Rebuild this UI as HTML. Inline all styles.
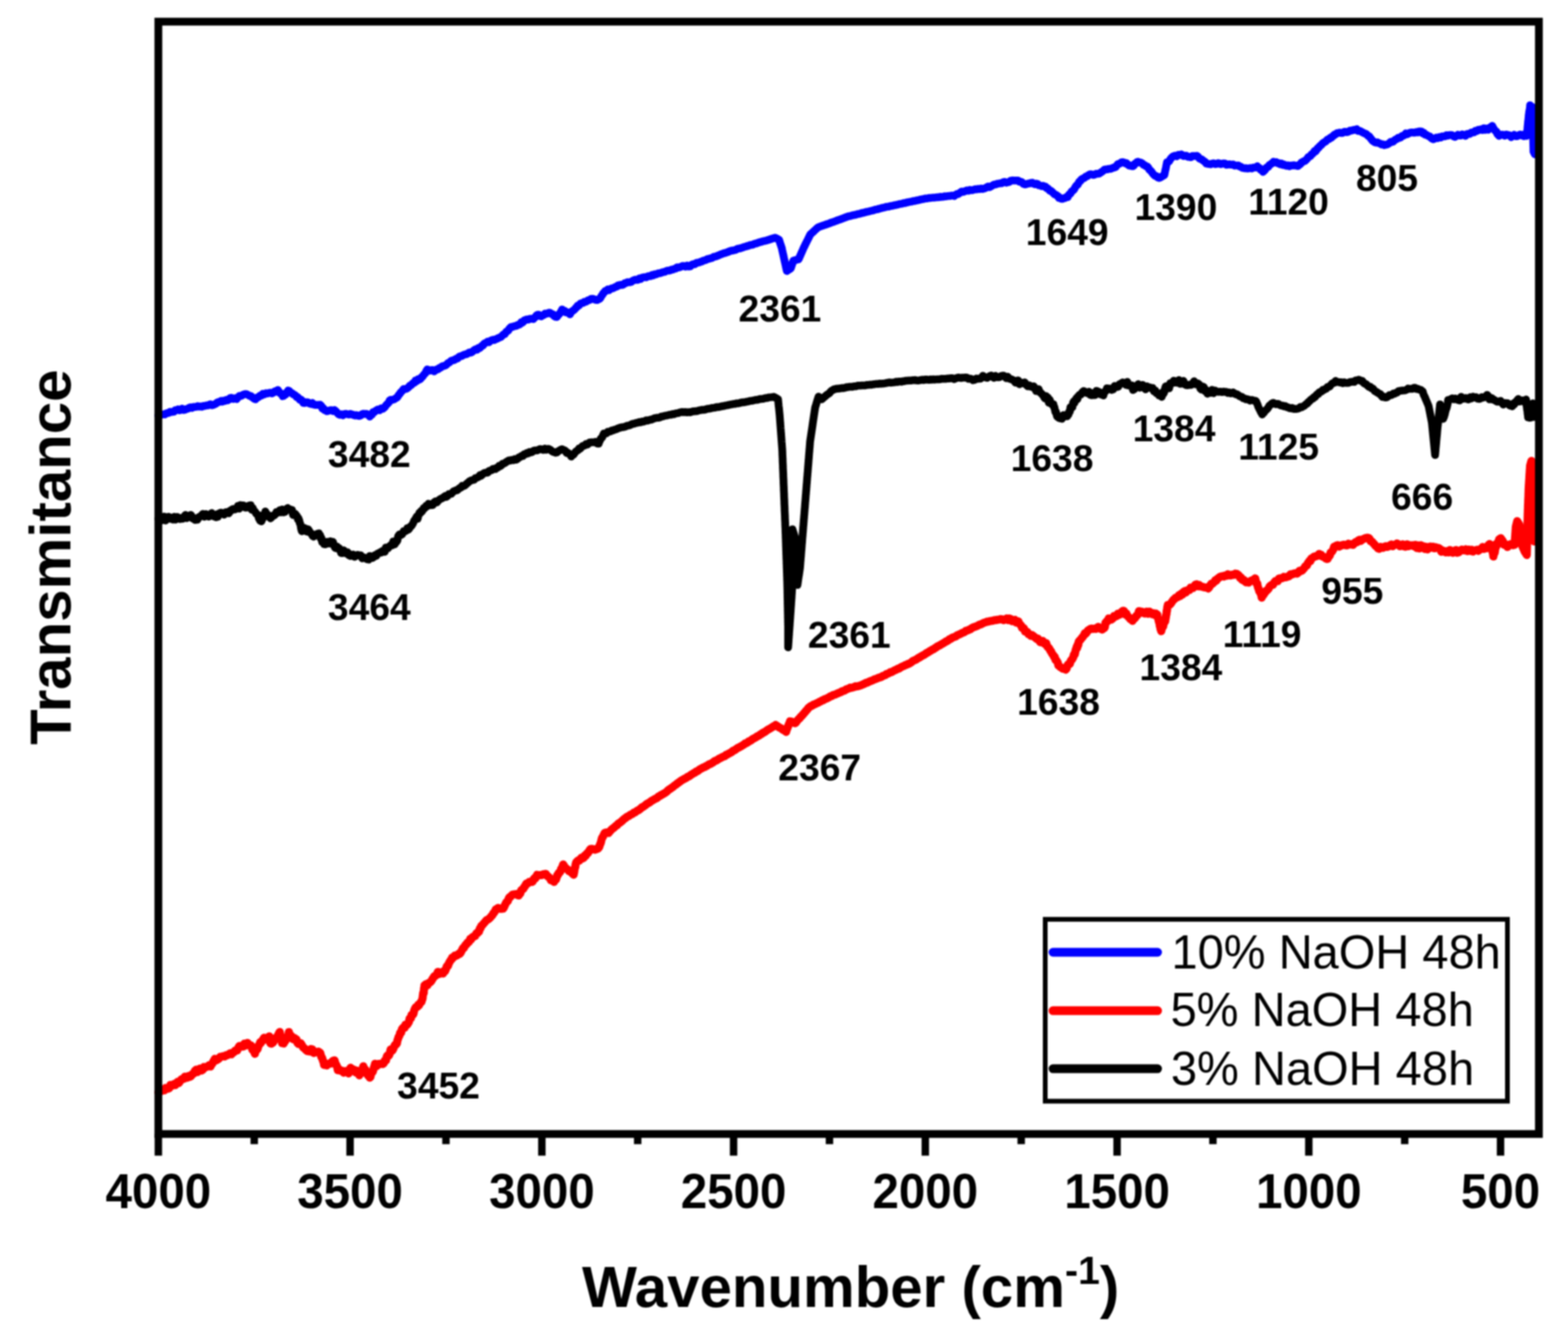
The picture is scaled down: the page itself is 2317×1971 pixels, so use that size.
<!DOCTYPE html>
<html><head><meta charset="utf-8"><title>FTIR spectra</title>
<style>html,body{margin:0;padding:0;background:#fff;}body{width:2317px;height:1971px;overflow:hidden;}svg{display:block;filter:blur(0.8px);}</style>
</head><body>
<svg width="2317" height="1971" viewBox="0 0 2317 1971">
<rect x="0" y="0" width="2317" height="1971" fill="#fff"/>
<g fill="none" stroke-linejoin="round" stroke-linecap="round">
<polyline stroke="#0000ff" stroke-width="11.5" points="234.0,614.0 235.9,613.6 237.8,613.1 239.8,612.4 241.7,612.1 243.6,612.4 245.5,610.8 247.5,610.3 249.4,610.0 251.3,608.4 253.3,608.7 255.2,608.4 257.1,608.3 259.0,606.0 261.0,606.0 262.9,604.9 265.0,606.3 267.1,605.7 269.2,603.8 271.3,605.8 273.4,605.4 275.4,604.3 277.5,603.9 279.6,602.5 281.7,601.8 283.8,602.7 285.9,601.3 288.0,601.3 290.1,601.0 292.2,600.1 294.2,600.8 296.3,600.4 298.4,601.0 300.5,599.8 302.5,599.8 304.6,599.0 306.7,599.1 308.8,598.2 310.8,597.4 312.9,598.8 315.0,598.4 316.9,597.4 318.9,596.5 320.8,594.9 322.7,594.1 324.6,593.6 326.6,592.4 328.5,593.5 330.4,592.0 332.4,592.4 334.3,590.7 336.2,591.5 338.1,590.6 340.1,587.9 342.0,587.8 344.6,589.5 347.1,588.4 349.7,589.7 351.6,587.1 353.5,585.1 355.5,585.2 357.4,584.4 359.8,582.9 362.2,582.2 364.6,582.5 367.0,583.8 368.8,584.9 370.5,584.9 372.3,586.7 374.0,587.9 375.8,589.3 377.6,590.0 379.4,587.4 381.2,587.2 382.9,585.9 384.7,584.2 386.5,584.4 388.3,581.8 390.6,582.7 392.9,581.0 395.3,581.4 397.6,580.5 399.9,580.2 402.0,581.2 404.1,580.0 406.3,578.0 408.4,578.6 410.5,576.2 411.9,578.1 413.4,580.7 414.8,581.6 416.2,581.7 417.7,585.3 419.1,584.9 420.5,583.5 421.8,583.2 423.2,580.6 424.5,579.0 425.9,576.9 427.7,578.0 429.5,580.3 431.3,580.6 433.0,582.5 434.8,583.1 436.6,584.4 438.4,586.7 440.0,587.0 441.6,588.7 443.2,590.8 444.9,590.6 446.5,592.0 448.1,595.3 450.4,595.4 452.6,594.3 454.9,594.5 457.1,596.1 459.4,596.9 461.6,595.5 463.9,597.9 466.2,598.3 468.5,598.2 470.8,598.3 473.1,598.1 474.7,599.5 476.2,603.3 477.8,603.1 479.3,605.8 480.9,606.2 483.1,607.6 485.4,607.0 487.6,606.3 489.9,606.0 492.1,607.3 494.4,605.8 496.3,607.6 498.2,609.8 500.2,612.0 502.1,612.9 504.3,612.1 506.5,613.6 508.7,611.9 510.9,611.4 513.1,612.0 515.3,612.5 517.5,611.5 519.8,612.2 522.1,613.0 524.5,613.9 526.8,613.2 529.1,614.2 531.0,614.5 533.0,613.8 534.9,612.0 536.8,611.2 538.7,611.7 540.6,611.4 542.6,611.9 544.5,612.6 546.4,615.5 548.0,613.5 549.6,612.7 551.2,609.1 552.9,609.1 554.5,607.3 556.1,606.5 558.5,605.0 560.9,606.1 563.3,603.4 565.7,604.0 567.2,602.8 568.6,601.5 570.0,599.4 571.5,597.6 573.0,596.2 574.4,594.8 575.8,591.7 577.3,590.8 579.9,590.7 582.4,590.0 585.0,588.3 586.4,587.5 587.7,586.1 589.1,583.7 590.5,582.2 591.9,579.9 593.2,578.8 594.6,577.2 596.5,574.7 598.5,574.9 600.4,574.6 602.4,573.2 604.3,571.6 605.9,569.5 607.5,569.1 609.1,567.4 610.7,565.8 612.3,565.5 613.9,562.4 615.8,563.1 617.8,560.4 619.7,560.8 621.6,559.6 623.0,557.2 624.4,556.5 625.8,554.2 627.1,552.7 628.5,551.6 629.9,548.2 631.3,545.8 633.4,546.7 635.4,547.7 637.5,546.8 639.5,546.8 641.6,548.6 643.5,547.2 645.4,545.8 647.4,545.7 649.3,543.6 651.2,543.3 653.1,541.4 654.9,540.8 656.6,540.5 658.4,539.7 660.1,538.5 661.9,536.5 663.6,535.8 665.4,534.3 667.1,532.8 668.9,532.5 670.6,532.1 672.4,531.1 674.3,530.0 676.3,529.6 678.2,527.4 680.1,526.4 682.1,526.1 684.0,524.9 686.0,524.0 687.9,523.5 689.8,523.1 691.7,521.9 693.7,520.7 695.6,520.9 697.5,520.3 699.4,518.4 701.3,516.8 703.3,515.8 705.2,516.6 707.1,514.1 708.8,514.2 710.4,512.7 712.1,510.9 713.7,510.6 715.4,507.8 717.0,506.8 718.7,506.2 720.6,504.7 722.6,505.6 724.5,503.7 726.4,502.8 728.3,502.0 730.3,502.4 732.2,501.4 734.1,500.7 736.1,499.6 738.0,498.8 739.9,498.0 741.8,496.4 743.8,494.3 745.7,493.8 747.1,491.6 748.5,489.8 749.9,489.2 751.2,488.2 752.6,485.6 754.0,484.3 755.4,482.9 757.3,483.0 759.2,482.1 761.2,481.7 763.1,481.4 765.0,480.1 766.7,479.8 768.4,478.9 770.1,476.2 771.8,476.8 773.4,475.3 775.1,473.0 776.8,472.6 778.5,471.9 780.9,472.2 783.3,470.9 785.7,471.0 788.1,471.4 789.5,469.8 791.0,468.6 792.5,466.3 793.9,465.2 795.8,464.9 797.8,466.6 799.7,467.4 801.6,466.1 803.6,465.3 805.5,463.3 807.4,463.7 809.4,462.9 811.3,462.0 813.2,462.4 815.2,464.1 817.1,464.5 819.0,467.0 821.0,468.1 822.9,468.4 824.2,466.1 825.5,465.0 826.8,463.5 828.0,462.2 829.3,459.8 830.6,457.2 832.5,459.7 834.5,459.2 836.4,461.6 838.3,461.3 840.3,462.6 842.2,464.5 843.6,461.6 845.1,460.1 846.5,459.2 848.0,458.1 849.4,456.8 850.8,454.9 852.3,453.9 853.7,451.4 855.6,451.3 857.6,448.6 859.5,447.9 861.4,447.6 863.4,446.1 865.3,446.0 867.2,444.9 869.1,443.7 871.1,443.4 873.0,441.8 875.3,441.5 877.6,441.9 880.0,443.0 882.3,443.3 884.6,442.1 886.0,441.6 887.3,440.0 888.7,437.3 890.1,435.6 891.5,433.1 892.8,432.0 894.2,430.1 896.1,429.5 898.1,427.6 900.0,428.7 901.9,427.0 903.8,426.0 905.8,426.0 907.7,424.8 909.6,423.8 911.5,423.4 913.5,421.4 915.4,421.6 917.3,420.7 919.3,421.1 921.2,420.4 923.1,418.5 925.1,418.2 927.0,416.9 928.9,416.9 930.9,417.0 932.8,416.5 934.7,415.0 936.7,414.1 938.6,413.2 940.7,413.5 942.7,413.5 944.8,411.4 946.9,412.1 948.9,410.1 951.0,409.8 953.0,409.4 955.1,409.7 957.2,408.4 959.2,407.9 961.3,407.9 963.4,406.3 965.4,407.0 967.5,405.2 969.4,405.5 971.4,404.4 973.3,403.7 975.2,403.8 977.1,403.0 979.1,402.3 981.0,401.8 982.9,401.5 984.9,400.2 986.8,399.7 988.7,399.9 990.7,399.2 992.6,398.3 994.5,398.3 996.5,397.1 998.4,396.9 1000.3,395.0 1002.2,395.3 1004.2,394.8 1006.1,394.3 1008.4,393.0 1010.7,392.9 1013.0,393.9 1015.4,392.4 1017.7,393.8 1020.0,393.5 1022.3,391.0 1024.6,390.3 1026.9,390.4 1029.2,388.5 1031.1,388.1 1033.1,387.8 1035.0,386.9 1037.0,386.4 1038.9,385.3 1040.9,384.7 1042.8,384.2 1044.8,383.1 1046.7,382.5 1048.7,382.1 1050.6,381.5 1052.6,380.9 1054.5,379.7 1056.5,379.2 1058.4,378.7 1060.4,377.8 1062.3,377.2 1064.3,376.2 1066.2,375.4 1068.2,374.8 1070.1,374.0 1072.1,373.6 1074.0,372.9 1076.0,372.2 1077.9,371.3 1079.8,370.7 1081.8,370.2 1083.7,370.0 1085.6,369.5 1087.5,368.9 1089.5,367.8 1091.4,367.2 1093.3,367.1 1095.2,366.3 1097.2,365.9 1099.1,365.0 1101.0,364.5 1102.9,364.0 1104.9,363.3 1106.8,362.9 1108.7,361.9 1110.6,361.8 1112.6,361.3 1114.5,360.3 1116.4,359.9 1118.3,359.5 1120.3,358.7 1122.2,358.0 1124.1,357.4 1126.1,357.0 1128.0,356.2 1129.9,356.1 1131.9,355.5 1133.8,354.9 1135.7,354.4 1137.7,353.7 1139.6,353.0 1141.5,352.4 1143.5,351.9 1145.4,351.3 1147.3,352.2 1149.2,353.2 1151.1,354.1 1151.8,356.0 1152.4,358.0 1153.0,359.9 1153.7,361.8 1154.3,363.8 1155.0,365.7 1155.5,367.7 1155.9,369.8 1156.4,371.8 1156.8,373.9 1157.3,375.9 1157.7,377.9 1158.2,380.0 1158.6,382.0 1159.1,384.1 1159.5,386.1 1160.0,388.2 1160.4,390.2 1160.9,392.2 1161.3,394.3 1161.8,396.3 1162.2,398.4 1162.7,400.4 1164.6,399.1 1166.6,397.9 1168.5,396.6 1169.2,394.7 1169.8,392.7 1170.5,390.8 1171.1,388.9 1171.8,386.9 1172.4,385.0 1175.0,384.4 1177.5,383.7 1180.1,383.1 1181.0,381.2 1181.8,379.2 1182.7,377.3 1183.5,375.4 1184.4,373.4 1185.2,371.5 1186.1,369.6 1186.9,367.6 1187.8,365.7 1188.8,363.8 1189.7,361.8 1190.7,359.9 1191.6,358.0 1192.6,356.0 1193.6,354.1 1194.5,352.2 1195.5,350.3 1196.4,348.3 1197.4,346.4 1199.1,344.9 1200.7,343.4 1202.4,341.9 1204.0,340.3 1205.7,338.8 1207.3,337.3 1209.0,335.8 1210.9,335.1 1212.9,334.4 1214.8,333.7 1216.7,333.1 1218.6,332.4 1220.6,331.7 1222.5,331.0 1224.4,330.5 1226.4,329.7 1228.3,328.8 1230.2,328.3 1232.1,327.6 1234.1,326.9 1236.0,326.2 1237.9,325.3 1239.8,324.8 1241.8,324.1 1243.7,323.3 1245.6,322.6 1247.5,321.9 1249.5,321.1 1251.4,320.5 1253.4,319.7 1255.4,319.3 1257.4,318.9 1259.4,318.2 1261.4,317.8 1263.4,317.5 1265.4,316.9 1267.4,316.3 1269.4,316.1 1271.4,315.5 1273.4,314.8 1275.4,314.5 1277.4,313.9 1279.4,313.4 1281.3,312.9 1283.3,312.6 1285.3,312.0 1287.3,311.5 1289.3,311.0 1291.3,310.6 1293.3,309.7 1295.3,309.4 1297.3,309.0 1299.3,308.3 1301.3,307.9 1303.3,307.2 1305.3,306.8 1307.3,306.4 1309.3,305.7 1311.3,305.4 1313.3,305.2 1315.3,304.6 1317.3,304.2 1319.3,303.9 1321.3,303.3 1323.3,303.1 1325.3,302.5 1327.3,302.1 1329.3,301.4 1331.3,301.2 1333.3,300.8 1335.3,300.1 1337.3,300.0 1339.2,299.3 1341.2,299.0 1343.2,298.4 1345.2,298.1 1347.2,297.8 1349.2,297.1 1351.2,297.0 1353.2,296.4 1355.2,296.0 1357.2,295.6 1359.2,295.1 1361.2,294.6 1363.2,294.3 1365.2,293.9 1367.2,293.3 1369.2,293.3 1371.3,292.9 1373.3,292.5 1375.4,292.4 1377.4,292.1 1379.4,291.9 1381.5,291.9 1383.5,291.6 1385.5,291.5 1387.6,291.3 1389.6,290.8 1391.7,290.9 1393.7,290.7 1395.7,290.1 1397.8,290.2 1399.8,289.8 1401.8,289.6 1403.9,289.6 1405.9,289.0 1408.0,288.9 1410.0,289.6 1411.8,288.2 1413.7,286.8 1415.5,286.8 1417.4,285.6 1419.2,284.2 1421.2,282.9 1423.2,283.5 1425.2,282.8 1427.2,281.9 1429.1,281.2 1431.1,281.8 1433.1,280.6 1435.1,280.9 1437.2,281.0 1439.3,280.2 1441.4,279.5 1443.5,279.7 1445.6,279.1 1447.7,279.4 1449.8,278.6 1451.9,279.2 1454.0,278.7 1456.1,277.9 1458.2,276.6 1460.1,275.6 1462.0,276.5 1464.0,275.5 1465.9,274.5 1467.8,273.3 1469.8,272.4 1471.7,272.5 1473.6,271.5 1475.8,271.2 1478.0,270.8 1480.2,270.7 1482.5,269.1 1484.7,268.8 1486.9,269.9 1489.1,269.3 1491.3,268.9 1493.6,266.9 1495.8,266.6 1498.1,266.7 1500.3,266.7 1502.6,266.7 1504.5,266.7 1506.4,268.5 1508.3,268.5 1510.3,269.5 1512.2,271.7 1514.1,272.4 1516.4,272.2 1518.7,271.3 1521.1,271.1 1523.4,270.2 1525.7,270.1 1527.6,271.5 1529.6,272.2 1531.5,271.3 1533.4,272.0 1535.3,273.9 1537.3,274.1 1539.2,275.0 1541.1,274.5 1543.1,275.5 1545.0,275.7 1546.7,278.1 1548.3,278.4 1550.0,280.2 1551.6,282.1 1553.3,282.1 1554.9,283.8 1556.6,285.4 1558.2,287.1 1559.9,287.5 1561.5,288.8 1563.2,289.6 1564.8,292.5 1566.5,292.3 1568.1,293.7 1570.0,293.8 1572.0,292.9 1573.9,292.5 1575.9,291.0 1577.8,291.2 1579.2,288.1 1580.5,286.7 1581.9,286.0 1583.3,283.2 1584.7,282.0 1586.0,281.2 1587.4,279.5 1588.7,276.9 1590.0,274.9 1591.3,273.6 1592.6,272.7 1593.8,270.2 1595.1,268.0 1596.4,267.5 1597.7,265.5 1599.0,264.4 1600.9,263.5 1602.9,262.5 1604.8,260.6 1606.7,260.4 1608.7,258.5 1610.6,257.5 1612.8,257.5 1615.1,258.4 1617.3,258.2 1619.6,256.7 1621.8,256.8 1624.1,256.6 1626.0,255.3 1627.9,254.0 1629.9,252.6 1631.8,250.8 1633.7,250.2 1636.0,250.3 1638.3,249.4 1640.7,249.6 1643.0,248.7 1645.3,247.6 1647.0,247.5 1648.7,246.6 1650.4,244.2 1652.0,242.4 1653.7,242.2 1655.4,241.1 1657.1,239.9 1658.8,239.5 1660.7,240.0 1662.7,241.4 1664.6,241.0 1666.5,243.1 1668.4,244.7 1670.4,244.4 1672.3,245.5 1673.9,245.5 1675.5,244.5 1677.1,241.6 1678.7,241.4 1680.3,239.2 1681.9,239.1 1683.8,240.0 1685.8,240.3 1687.7,241.3 1689.6,243.5 1691.5,244.1 1693.5,245.7 1695.4,246.1 1696.8,247.6 1698.2,250.6 1699.6,251.6 1700.9,252.9 1702.3,254.7 1703.7,256.7 1705.1,258.3 1707.0,259.9 1708.9,260.1 1710.9,262.2 1712.8,263.0 1714.7,262.2 1716.7,260.9 1718.6,259.8 1720.5,258.7 1721.0,256.6 1721.5,253.8 1722.0,251.4 1722.5,249.6 1722.9,247.6 1723.4,244.7 1723.9,242.5 1724.4,239.8 1726.0,239.4 1727.6,238.3 1729.2,235.5 1730.8,233.4 1732.4,231.9 1734.0,230.7 1736.3,230.1 1738.6,231.0 1741.0,228.8 1743.3,228.9 1745.6,228.1 1747.5,229.8 1749.4,230.6 1751.4,230.0 1753.3,230.3 1755.2,231.7 1757.5,231.8 1759.7,232.3 1762.0,230.4 1764.2,230.4 1766.5,230.4 1768.7,230.3 1770.4,231.6 1772.1,233.9 1773.9,234.9 1775.6,235.5 1777.3,236.7 1779.0,238.1 1780.8,239.2 1782.5,241.6 1784.2,242.0 1786.5,242.3 1788.7,242.7 1791.0,241.9 1793.2,241.3 1795.5,242.4 1797.7,242.3 1800.0,241.0 1802.0,241.6 1804.0,242.6 1806.0,241.9 1808.0,241.5 1810.0,241.4 1812.0,243.4 1814.1,243.3 1816.1,242.7 1818.1,243.2 1820.1,243.3 1822.1,243.0 1824.1,244.7 1826.0,244.6 1828.0,244.4 1829.9,244.5 1831.8,246.0 1833.8,246.4 1835.7,247.9 1837.6,248.3 1839.5,248.7 1841.5,248.4 1843.4,249.0 1845.5,248.8 1847.5,248.2 1849.6,248.9 1851.7,247.7 1853.8,247.4 1855.8,247.6 1857.9,245.6 1859.6,247.6 1861.3,248.3 1862.9,251.0 1864.6,250.9 1866.3,253.9 1867.9,252.5 1869.4,251.0 1871.0,248.1 1872.6,247.0 1874.2,246.5 1875.7,243.8 1877.3,243.1 1878.9,241.6 1880.4,241.2 1882.0,239.0 1883.9,240.1 1885.9,239.6 1887.8,241.2 1889.7,241.1 1891.7,242.7 1893.6,241.6 1895.5,243.7 1897.4,243.1 1899.4,244.4 1901.3,245.0 1903.4,244.2 1905.5,245.6 1907.6,244.5 1909.7,244.5 1911.8,244.1 1913.9,244.5 1916.0,244.8 1918.1,245.3 1919.8,243.3 1921.5,242.6 1923.2,240.1 1924.9,239.4 1926.5,238.2 1928.2,237.9 1929.9,236.2 1931.6,234.6 1933.3,232.0 1935.0,231.4 1936.5,230.5 1938.0,228.1 1939.5,227.3 1940.9,225.6 1942.4,223.2 1943.9,223.7 1945.4,221.8 1946.9,219.1 1948.4,218.5 1949.8,216.3 1951.3,215.0 1952.8,213.9 1954.3,211.9 1955.9,210.8 1957.5,209.7 1959.1,209.0 1960.7,207.0 1962.3,205.7 1963.9,205.6 1965.6,203.6 1967.2,203.6 1968.8,201.6 1970.4,200.7 1972.0,198.8 1973.6,198.6 1975.7,196.7 1977.9,196.4 1980.0,195.9 1982.2,196.6 1984.3,196.3 1986.5,194.8 1988.6,194.8 1990.8,195.3 1992.9,194.4 1994.9,193.0 1996.9,192.9 1998.9,192.3 2000.9,191.8 2002.9,192.0 2004.9,190.9 2006.9,193.5 2008.9,193.3 2011.0,194.3 2013.0,195.4 2015.0,196.4 2017.0,197.3 2018.6,197.9 2020.2,199.3 2021.8,200.9 2023.4,201.6 2025.0,203.8 2026.6,205.9 2028.2,207.9 2029.8,209.0 2031.4,210.2 2033.5,210.8 2035.5,210.3 2037.6,211.6 2039.7,212.3 2041.8,213.6 2043.8,213.2 2045.9,214.5 2047.7,213.8 2049.5,213.5 2051.3,212.7 2053.2,211.3 2055.0,209.5 2056.8,209.8 2058.6,209.2 2060.4,207.6 2062.3,206.1 2064.1,205.4 2066.0,203.6 2067.9,203.7 2069.7,203.1 2071.6,201.1 2073.5,200.5 2075.3,199.6 2077.2,197.3 2079.2,198.5 2081.1,197.5 2083.1,196.3 2085.1,195.7 2087.1,195.7 2089.0,196.0 2091.0,195.9 2093.0,194.9 2095.0,195.7 2096.9,194.3 2098.9,194.1 2100.7,194.4 2102.4,197.1 2104.2,196.4 2105.9,199.0 2107.7,199.2 2109.4,200.3 2111.2,201.3 2112.9,201.7 2114.7,203.9 2116.4,205.1 2118.2,205.7 2120.3,204.8 2122.5,203.3 2124.6,204.1 2126.8,202.5 2128.9,203.2 2131.1,201.4 2133.2,201.5 2135.4,201.5 2137.5,199.7 2139.6,200.4 2141.7,199.5 2143.8,199.5 2145.8,199.8 2147.9,201.4 2150.0,202.3 2152.2,200.8 2154.3,199.1 2156.5,200.3 2158.6,200.3 2160.8,198.5 2163.2,199.6 2165.6,200.7 2168.0,197.9 2170.0,197.7 2172.0,197.9 2174.1,195.7 2176.1,195.8 2178.1,195.6 2180.1,193.2 2182.2,193.7 2184.2,191.7 2186.2,192.1 2188.4,191.0 2190.5,192.1 2192.7,189.5 2194.8,191.9 2197.0,189.7 2199.0,191.8 2201.0,189.2 2203.0,187.5 2205.0,186.0 2206.3,188.5 2207.5,190.4 2208.8,192.3 2210.1,193.9 2211.3,194.5 2212.6,198.1 2213.8,199.1 2215.1,200.8 2217.3,198.9 2219.4,198.9 2221.6,199.2 2223.7,200.5 2225.9,198.8 2228.2,199.5 2230.6,199.9 2233.0,202.5 2235.3,200.9 2237.5,199.2 2239.7,201.2 2241.8,201.2 2244.0,199.9 2246.2,198.7 2248.2,200.1 2250.1,199.1 2252.1,201.1 2254.0,199.8 2256.0,200.8 2256.2,200.1 2256.4,198.3 2256.6,195.8 2256.8,192.4 2256.9,193.0 2257.1,190.3 2257.3,187.1 2257.5,185.4 2257.7,183.7 2257.9,181.1 2258.1,178.4 2258.2,179.7 2258.4,177.9 2258.6,174.7 2258.8,173.5 2259.0,169.7 2259.3,169.1 2259.7,164.6 2260.0,164.5 2260.3,161.6 2260.7,160.8 2261.0,155.4 2261.1,160.2 2261.2,159.5 2261.3,163.2 2261.4,166.8 2261.5,165.0 2261.6,168.0 2261.7,170.2 2261.8,172.3 2261.9,173.3 2262.1,177.0 2262.2,179.0 2262.3,181.0 2262.4,183.0 2262.5,185.0 2262.6,187.0 2262.7,189.0 2262.8,191.0 2262.9,193.0 2263.0,195.0 2263.1,192.9 2263.2,190.9 2263.2,188.8 2263.3,186.8 2263.4,184.7 2263.5,182.7 2263.6,180.6 2263.7,178.6 2263.8,176.5 2263.8,174.4 2263.9,172.4 2264.0,170.3 2264.1,168.3 2264.2,166.2 2264.2,164.2 2264.3,162.1 2264.4,160.1 2264.5,158.0 2264.5,160.0 2264.6,162.0 2264.6,164.0 2264.7,166.0 2264.7,168.0 2264.8,170.0 2264.8,172.0 2264.9,174.0 2264.9,176.0 2265.0,178.0 2265.0,180.0 2265.0,182.0 2265.1,184.0 2265.1,186.0 2265.2,188.0 2265.2,190.0 2265.3,192.0 2265.3,194.0 2265.4,196.0 2265.4,198.0 2265.5,200.0 2265.5,202.0 2265.5,204.0 2265.6,206.0 2265.6,208.0 2265.7,210.0 2265.7,212.0 2265.8,214.0 2265.8,216.0 2265.9,218.0 2265.9,220.0 2266.0,222.0 2266.0,224.0 2267.0,226.0 2268.0,228.0 2268.4,225.9 2268.7,223.8 2269.1,221.7 2269.5,219.6 2269.8,217.5 2270.2,215.5 2270.5,213.4 2270.9,211.3 2271.3,209.2 2271.6,207.1 2272.0,205.0"/>
<polyline stroke="#ff0000" stroke-width="12" points="234.0,1614.0 235.9,1613.3 237.7,1612.3 239.4,1611.7 241.2,1611.1 243.0,1611.1 244.7,1607.4 246.5,1608.3 248.3,1608.6 250.0,1607.8 251.8,1603.0 253.6,1604.5 255.3,1603.4 257.1,1601.8 258.9,1603.3 260.7,1600.0 262.5,1598.6 264.2,1600.2 266.0,1597.7 267.8,1595.0 269.6,1594.0 271.4,1594.0 273.2,1590.8 274.9,1592.7 276.7,1592.4 278.5,1589.8 280.3,1591.0 282.2,1590.1 284.2,1586.9 286.1,1586.3 288.0,1582.1 290.0,1580.5 291.9,1584.0 293.8,1579.8 295.7,1578.8 297.7,1581.8 299.6,1580.5 301.5,1576.6 303.4,1577.1 305.3,1576.1 307.3,1575.7 309.2,1573.7 311.1,1575.8 312.4,1572.9 313.7,1571.6 315.0,1568.8 316.3,1566.6 317.6,1564.4 318.9,1567.0 321.1,1565.8 323.3,1564.3 325.5,1561.5 327.7,1561.1 329.9,1560.4 332.1,1560.9 334.3,1559.0 336.2,1559.0 338.2,1557.5 340.1,1556.3 342.0,1557.6 344.0,1555.4 345.9,1554.4 347.4,1552.4 349.0,1552.0 350.5,1552.0 352.1,1548.1 353.6,1545.6 355.5,1546.7 357.4,1545.2 359.4,1546.3 361.3,1541.9 363.2,1544.8 365.8,1541.0 368.3,1544.5 370.9,1544.6 371.9,1545.9 372.8,1550.8 373.8,1551.7 374.8,1550.8 375.7,1554.5 376.7,1557.0 377.7,1552.0 378.6,1550.4 379.6,1551.1 380.6,1549.9 381.5,1546.6 382.5,1544.4 383.5,1542.9 384.5,1539.7 385.4,1541.0 386.4,1539.5 388.3,1536.4 390.2,1533.3 392.1,1534.7 394.1,1536.1 396.0,1533.0 397.9,1531.2 398.4,1534.1 398.9,1539.2 399.4,1541.1 399.9,1541.8 401.1,1541.9 402.4,1540.9 403.6,1540.3 404.8,1538.0 406.0,1534.2 407.3,1534.5 408.5,1533.5 409.7,1531.5 410.9,1529.2 412.2,1526.7 413.4,1524.7 413.8,1528.5 414.2,1529.3 414.7,1531.9 415.1,1531.3 415.5,1532.6 415.9,1535.6 416.4,1539.3 416.8,1541.2 417.2,1541.3 418.3,1539.6 419.4,1541.8 420.4,1535.5 421.5,1538.3 422.6,1535.8 423.7,1533.0 424.7,1533.5 425.8,1530.1 426.9,1524.9 428.5,1531.4 430.1,1530.2 431.7,1534.5 433.3,1535.5 434.9,1533.6 436.5,1534.7 438.1,1535.9 439.7,1541.2 441.3,1542.5 442.9,1540.9 444.5,1541.6 446.1,1544.2 448.1,1547.9 450.0,1549.0 451.9,1551.1 453.9,1553.0 455.8,1552.6 457.7,1553.6 459.6,1550.0 461.6,1550.6 463.5,1555.7 465.4,1555.1 468.0,1554.2 470.5,1553.8 473.1,1555.5 473.7,1557.5 474.4,1560.2 475.0,1561.9 475.7,1562.6 476.3,1563.9 477.0,1566.5 477.6,1568.0 478.3,1569.8 478.9,1573.4 480.8,1571.3 482.8,1574.2 484.7,1572.2 486.6,1571.2 488.6,1571.5 490.5,1568.8 492.5,1567.1 494.4,1566.8 495.3,1570.2 496.3,1572.4 497.2,1574.0 498.2,1576.3 499.2,1581.2 500.1,1578.9 502.0,1581.8 504.0,1582.0 505.9,1582.0 507.9,1584.9 509.8,1582.9 511.8,1582.5 513.7,1583.6 515.1,1585.9 516.5,1580.7 518.0,1577.6 519.4,1580.0 521.1,1579.7 522.7,1582.7 524.4,1580.9 526.0,1584.8 527.7,1582.1 529.3,1584.5 531.0,1588.8 532.2,1585.4 533.3,1584.9 534.5,1580.9 535.6,1581.5 536.8,1575.4 538.0,1579.9 539.2,1579.4 540.4,1581.1 541.6,1586.3 542.8,1585.7 544.0,1589.4 545.2,1588.3 546.4,1592.3 547.3,1591.3 548.1,1587.9 549.0,1584.0 549.9,1584.3 550.7,1583.8 551.6,1581.1 552.5,1577.4 553.3,1575.2 554.2,1571.7 556.5,1575.2 558.8,1572.0 561.1,1572.3 563.4,1571.4 565.7,1572.1 566.7,1571.4 567.6,1570.1 568.6,1566.8 569.6,1566.3 570.5,1566.3 571.5,1561.1 572.5,1559.5 573.4,1559.8 574.4,1560.0 575.4,1558.3 576.3,1554.7 577.3,1550.5 578.6,1552.9 579.9,1551.9 581.1,1549.8 582.4,1546.3 583.7,1543.9 585.0,1543.4 585.8,1542.5 586.5,1541.6 587.3,1537.1 588.1,1535.2 588.9,1532.3 589.6,1531.5 590.4,1529.6 591.2,1526.3 591.9,1525.3 592.7,1525.8 594.0,1520.5 595.3,1518.9 596.6,1517.5 597.9,1518.6 599.1,1514.0 600.4,1515.0 601.7,1513.9 603.0,1511.9 604.3,1509.8 605.3,1504.8 606.2,1504.3 607.2,1504.5 608.1,1499.7 609.1,1499.7 610.1,1499.3 611.0,1497.9 612.0,1493.0 613.2,1490.2 614.4,1488.0 615.6,1487.9 616.8,1487.4 618.0,1484.4 619.1,1485.5 620.3,1483.0 621.5,1481.2 622.7,1480.6 623.9,1476.3 624.3,1475.9 624.7,1472.2 625.0,1469.7 625.4,1466.7 625.8,1468.1 626.2,1466.6 626.6,1459.9 626.9,1461.4 627.3,1455.8 627.7,1455.6 629.6,1453.9 631.6,1455.8 633.5,1452.2 635.5,1451.4 637.4,1449.5 638.6,1447.2 639.8,1445.5 641.0,1443.7 642.2,1441.9 643.4,1441.9 644.6,1440.8 645.8,1438.9 647.0,1435.9 649.6,1438.9 652.1,1436.6 654.7,1438.4 655.7,1436.3 656.8,1434.0 657.8,1434.7 658.9,1432.2 659.9,1428.5 660.9,1426.9 662.0,1427.2 663.0,1424.0 664.0,1422.0 665.1,1420.2 666.1,1418.5 667.2,1417.6 668.2,1414.9 670.1,1414.6 672.1,1411.8 674.0,1412.1 676.0,1411.1 677.9,1409.1 679.2,1409.3 680.5,1407.9 681.8,1405.4 683.0,1403.0 684.3,1400.6 685.6,1400.5 686.9,1397.8 688.2,1395.8 689.4,1395.3 690.7,1392.7 692.0,1392.5 693.3,1391.2 694.8,1387.3 696.3,1387.8 697.8,1384.9 699.3,1383.9 700.8,1383.6 702.3,1382.9 703.8,1379.3 705.3,1379.2 706.8,1376.4 707.9,1376.4 709.0,1372.0 710.1,1371.6 711.2,1367.9 712.3,1367.4 713.4,1366.1 714.5,1364.7 716.1,1363.0 717.7,1361.0 719.3,1359.2 720.9,1358.7 722.5,1357.5 724.1,1356.1 725.3,1354.7 726.5,1353.1 727.7,1352.0 729.0,1349.3 730.2,1348.5 731.4,1346.3 732.6,1343.5 733.8,1343.2 736.2,1341.5 738.6,1342.8 741.0,1342.7 743.4,1342.6 744.6,1340.8 745.7,1338.2 746.9,1335.8 748.0,1333.3 749.2,1332.5 750.4,1331.5 751.5,1328.0 752.7,1325.7 753.8,1325.6 755.0,1324.2 757.3,1321.8 759.6,1321.4 762.0,1321.1 764.3,1322.3 766.6,1323.1 767.8,1319.6 768.9,1319.7 770.1,1315.6 771.2,1314.5 772.4,1313.9 773.5,1313.0 774.6,1310.5 775.8,1309.5 777.0,1306.8 778.1,1305.2 780.0,1305.2 782.0,1303.0 784.0,1303.1 785.9,1303.1 787.2,1302.3 788.5,1299.1 789.8,1297.5 791.0,1298.1 792.3,1295.2 793.6,1292.7 795.9,1293.5 798.2,1292.9 800.5,1292.9 802.8,1291.7 805.1,1291.5 806.6,1291.2 808.1,1293.6 809.6,1294.9 811.1,1295.9 812.6,1297.6 814.1,1300.7 815.6,1299.9 817.1,1301.0 818.6,1303.1 819.6,1300.8 820.5,1298.5 821.5,1299.6 822.5,1296.6 823.4,1293.2 824.4,1293.0 825.4,1290.1 826.3,1289.3 827.3,1289.0 828.2,1287.3 829.2,1283.6 830.2,1283.1 831.1,1280.4 832.1,1277.3 833.8,1279.7 835.5,1282.4 837.3,1283.7 839.0,1284.9 840.7,1287.1 842.4,1286.6 844.2,1289.0 845.9,1290.7 847.6,1292.5 848.1,1290.2 848.5,1288.2 849.0,1284.4 849.5,1282.5 850.0,1281.2 850.5,1277.6 850.9,1276.1 851.4,1274.3 853.0,1272.5 854.6,1271.2 856.1,1271.5 857.7,1269.2 859.3,1267.1 860.9,1268.3 862.5,1267.5 864.1,1264.0 865.6,1264.2 867.2,1261.1 868.8,1260.3 869.8,1258.2 870.7,1257.8 871.6,1255.6 872.6,1254.5 874.9,1254.2 877.1,1254.8 879.4,1255.4 881.6,1254.6 883.9,1253.7 884.6,1251.6 885.3,1251.9 886.0,1249.8 886.7,1247.4 887.4,1246.4 888.1,1244.0 888.8,1240.8 889.5,1238.2 890.2,1237.0 890.9,1236.7 891.6,1234.6 893.5,1230.8 895.5,1229.9 897.4,1230.3 899.3,1230.8 900.9,1228.5 902.4,1227.1 904.0,1225.2 905.6,1224.0 907.1,1223.1 908.7,1221.5 910.3,1220.1 911.8,1219.3 913.4,1217.2 915.0,1216.2 916.6,1215.2 918.1,1213.8 919.7,1212.6 921.3,1210.8 922.8,1209.7 924.4,1208.7 926.1,1207.0 927.9,1206.1 929.6,1205.5 931.4,1203.8 933.1,1203.2 934.9,1202.2 936.6,1200.7 938.4,1200.3 940.1,1199.0 941.9,1197.5 943.6,1197.1 945.3,1195.8 947.0,1194.3 948.7,1192.7 950.4,1192.1 952.0,1190.8 953.7,1189.7 955.4,1188.0 957.1,1187.1 958.9,1186.2 960.7,1185.1 962.5,1183.5 964.3,1182.5 966.1,1181.5 967.9,1180.4 969.7,1179.7 971.4,1178.6 973.2,1176.7 975.0,1176.1 976.8,1174.6 978.6,1174.1 980.4,1172.7 982.2,1171.9 983.9,1170.7 985.5,1169.5 987.2,1167.6 988.8,1166.3 990.5,1165.6 992.1,1164.2 993.8,1163.2 995.5,1161.7 997.1,1160.4 998.8,1159.4 1000.4,1157.9 1002.1,1156.8 1003.7,1155.5 1005.4,1154.4 1007.2,1152.9 1009.0,1152.1 1010.8,1151.1 1012.6,1150.1 1014.4,1149.2 1016.2,1147.7 1018.0,1147.1 1019.8,1145.8 1021.7,1144.4 1023.5,1143.5 1025.3,1142.2 1027.1,1141.4 1028.9,1139.8 1030.7,1139.4 1032.5,1137.9 1034.3,1136.5 1036.1,1135.6 1037.8,1134.8 1039.6,1133.8 1041.3,1133.3 1043.1,1132.0 1044.8,1131.5 1046.6,1130.0 1048.3,1129.1 1050.1,1128.6 1051.8,1127.6 1053.6,1126.6 1055.4,1125.0 1057.1,1124.0 1058.9,1123.6 1060.6,1122.3 1062.4,1121.2 1064.1,1120.2 1065.9,1119.4 1067.6,1118.4 1069.4,1117.8 1071.1,1117.1 1072.9,1115.4 1074.7,1114.9 1076.4,1113.7 1078.2,1112.8 1079.9,1111.9 1081.7,1110.8 1083.4,1109.1 1085.2,1108.5 1086.9,1107.5 1088.7,1106.2 1090.4,1104.8 1092.2,1104.4 1093.9,1103.2 1095.7,1102.3 1097.4,1101.2 1099.2,1100.1 1100.9,1098.5 1102.7,1098.2 1104.4,1097.2 1106.2,1095.6 1107.9,1094.9 1109.7,1094.0 1111.4,1092.5 1113.1,1091.4 1114.9,1090.6 1116.6,1089.6 1118.4,1088.3 1120.1,1087.5 1121.8,1086.6 1123.6,1085.1 1125.3,1084.4 1127.1,1082.8 1128.8,1082.1 1130.5,1081.2 1132.3,1079.8 1134.0,1078.6 1135.8,1077.6 1137.5,1076.6 1139.2,1075.6 1141.0,1074.5 1142.7,1073.3 1144.5,1072.5 1146.2,1071.2 1147.9,1072.3 1149.6,1073.5 1151.3,1074.9 1153.0,1075.5 1154.8,1076.5 1156.5,1078.0 1158.2,1078.9 1159.9,1079.6 1161.6,1081.4 1162.3,1078.8 1163.0,1077.3 1163.8,1075.0 1164.5,1073.6 1165.2,1071.3 1166.0,1069.6 1166.7,1067.8 1167.4,1065.8 1169.3,1066.2 1171.2,1066.9 1173.2,1067.8 1175.1,1068.5 1176.4,1067.2 1177.8,1065.1 1179.1,1063.6 1180.4,1062.1 1181.7,1061.2 1183.0,1059.2 1184.4,1058.2 1185.7,1056.4 1187.0,1055.3 1188.3,1053.5 1189.7,1052.2 1191.0,1050.1 1192.3,1049.2 1193.6,1047.3 1195.0,1045.5 1196.3,1044.7 1198.1,1043.3 1199.9,1042.7 1201.8,1041.3 1203.6,1040.7 1205.4,1039.8 1207.2,1038.9 1209.0,1038.3 1210.8,1036.9 1212.7,1036.5 1214.5,1035.0 1216.3,1034.7 1218.1,1033.3 1219.9,1032.7 1221.7,1032.0 1223.6,1030.9 1225.4,1030.1 1227.2,1028.6 1229.1,1028.4 1231.1,1026.9 1233.0,1026.5 1234.9,1025.8 1236.8,1024.9 1238.8,1024.1 1240.7,1023.2 1242.6,1022.6 1244.5,1021.2 1246.5,1020.9 1248.4,1020.0 1250.3,1018.7 1252.2,1018.0 1254.2,1017.2 1256.1,1016.1 1258.1,1016.2 1260.1,1015.7 1262.1,1015.1 1264.0,1014.1 1266.0,1014.2 1268.0,1013.8 1270.0,1013.2 1271.9,1012.6 1273.9,1011.8 1275.8,1010.9 1277.7,1010.1 1279.6,1009.0 1281.6,1008.6 1283.5,1007.5 1285.4,1006.7 1287.3,1006.0 1289.3,1005.2 1291.2,1004.2 1293.1,1003.5 1295.0,1002.9 1297.0,1002.0 1298.9,1001.1 1300.8,1000.8 1302.6,1000.0 1304.5,998.7 1306.3,998.1 1308.2,997.4 1310.0,995.8 1311.9,995.4 1313.7,994.5 1315.5,993.3 1317.4,993.0 1319.2,992.0 1321.1,990.9 1323.0,990.0 1324.8,989.4 1326.7,987.9 1328.5,987.7 1330.3,986.5 1332.2,985.4 1334.0,984.5 1335.9,983.9 1337.8,982.6 1339.6,982.3 1341.5,981.1 1343.3,980.6 1345.0,979.6 1346.8,978.5 1348.5,976.9 1350.2,976.0 1351.9,975.3 1353.7,974.6 1355.4,973.3 1357.1,972.1 1358.8,971.4 1360.6,970.1 1362.3,969.2 1364.0,968.1 1365.7,967.5 1367.5,966.2 1369.2,964.7 1370.9,964.2 1372.6,963.0 1374.4,961.8 1376.1,961.0 1377.9,959.7 1379.7,959.2 1381.5,957.5 1383.3,956.7 1385.1,955.2 1386.9,954.3 1388.7,953.5 1390.5,952.3 1392.4,951.3 1394.2,950.2 1396.0,949.1 1397.8,947.8 1399.6,947.2 1401.4,945.9 1403.2,944.3 1405.0,943.9 1406.8,942.4 1408.7,941.7 1410.5,941.0 1412.3,940.3 1414.1,938.8 1416.0,938.0 1417.8,937.2 1419.6,936.5 1421.4,935.4 1423.3,934.7 1425.1,934.0 1426.9,932.3 1428.7,931.7 1430.6,931.1 1432.4,930.2 1434.2,929.4 1436.0,928.0 1437.9,927.0 1439.7,926.4 1441.6,925.8 1443.6,925.0 1445.5,924.0 1447.4,922.9 1449.3,922.6 1451.3,921.5 1453.2,920.5 1455.1,919.7 1457.1,919.2 1459.0,918.5 1461.1,918.2 1463.3,917.7 1465.4,917.3 1467.6,917.0 1469.7,916.2 1471.9,916.2 1474.0,915.7 1476.2,915.4 1478.3,914.8 1480.6,914.9 1482.9,916.2 1485.3,915.4 1487.6,913.7 1489.9,916.3 1491.8,913.9 1493.8,914.8 1495.7,917.8 1497.6,916.7 1499.5,916.0 1501.5,919.8 1503.4,919.0 1504.8,918.1 1506.1,921.2 1507.5,922.8 1508.9,924.2 1510.3,927.8 1511.6,927.3 1513.0,928.3 1514.7,933.0 1516.4,933.0 1518.1,933.9 1519.8,937.0 1521.6,937.3 1523.3,939.4 1525.0,938.4 1526.7,939.5 1528.4,941.0 1530.2,942.6 1531.9,944.1 1533.7,943.5 1535.4,946.2 1537.2,948.9 1538.9,949.1 1540.7,946.9 1542.4,950.0 1544.2,951.8 1545.9,950.3 1547.7,955.5 1548.8,956.5 1549.9,957.4 1551.0,959.2 1552.1,961.6 1553.2,962.5 1554.3,965.2 1555.4,966.8 1556.5,968.0 1557.6,970.5 1558.6,970.6 1559.7,975.0 1560.8,975.3 1561.9,977.3 1562.9,978.7 1564.0,983.3 1565.1,983.9 1566.8,985.6 1568.6,986.5 1570.3,988.0 1572.1,988.1 1573.8,988.8 1575.0,989.4 1576.2,987.5 1577.3,983.2 1578.5,981.5 1579.7,980.7 1580.9,980.9 1582.0,977.1 1583.2,975.0 1584.4,974.2 1585.1,972.6 1585.9,971.2 1586.6,967.9 1587.4,966.3 1588.1,967.0 1588.8,964.1 1589.6,959.8 1590.3,959.1 1591.0,955.6 1591.8,957.3 1592.5,952.2 1593.3,953.2 1594.0,948.2 1595.3,946.5 1596.6,945.3 1597.9,943.5 1599.2,941.9 1600.4,940.4 1601.7,938.7 1603.0,935.7 1604.3,936.3 1605.6,934.8 1607.5,931.8 1609.4,930.5 1611.4,929.1 1613.3,928.8 1615.2,929.3 1617.2,928.8 1619.1,929.2 1621.0,927.7 1622.9,926.2 1624.8,928.1 1626.8,929.3 1628.7,930.2 1629.7,928.1 1630.6,928.4 1631.6,928.3 1632.6,926.5 1633.5,920.3 1634.5,919.4 1635.4,917.9 1636.4,918.2 1638.3,913.9 1640.3,914.4 1642.2,915.4 1644.1,914.0 1646.1,910.4 1648.0,911.0 1649.9,910.4 1651.9,906.7 1653.8,908.6 1655.7,906.5 1657.7,903.8 1659.6,902.4 1661.1,902.8 1662.7,907.9 1664.2,906.2 1665.8,909.5 1667.3,911.5 1668.9,912.6 1670.4,914.9 1672.0,914.1 1673.5,917.3 1674.9,913.7 1676.2,914.2 1677.6,912.7 1679.0,909.8 1680.4,909.3 1681.7,907.4 1683.1,902.9 1685.3,903.7 1687.5,903.7 1689.7,905.8 1692.0,906.5 1694.2,903.8 1696.4,906.9 1698.6,903.7 1700.5,905.4 1702.4,907.4 1704.3,906.3 1706.3,908.7 1708.2,906.8 1710.1,908.2 1710.6,912.1 1711.2,913.6 1711.7,914.0 1712.2,917.3 1712.7,919.5 1713.3,920.0 1713.8,925.0 1714.3,924.2 1714.8,929.2 1715.4,930.5 1715.9,932.5 1716.6,929.7 1717.4,927.3 1718.1,926.2 1718.8,925.7 1719.5,921.1 1720.2,920.4 1721.0,918.9 1721.7,918.1 1722.1,915.1 1722.5,913.8 1722.9,910.9 1723.3,907.9 1723.7,907.4 1724.0,902.4 1724.4,902.6 1724.8,898.1 1725.2,896.2 1725.6,894.0 1727.0,893.8 1728.5,893.4 1729.9,892.0 1731.3,890.0 1732.8,887.7 1734.2,886.0 1735.7,885.1 1737.1,883.3 1738.8,882.8 1740.5,882.1 1742.2,879.2 1743.8,880.8 1745.5,877.2 1747.2,878.5 1748.9,874.6 1750.6,873.5 1752.3,875.5 1754.1,872.4 1755.8,871.6 1757.6,871.7 1759.3,868.5 1761.0,869.1 1762.8,868.9 1764.5,866.6 1766.3,864.0 1768.0,863.4 1770.2,866.2 1772.3,864.5 1774.5,866.6 1776.7,866.9 1778.9,867.8 1781.1,867.9 1783.2,868.0 1785.4,869.4 1786.9,867.6 1788.4,864.5 1789.9,862.5 1791.4,862.7 1792.9,861.1 1794.4,859.9 1795.9,857.2 1797.4,858.0 1798.9,855.2 1800.8,853.9 1802.8,852.4 1804.7,851.7 1806.6,851.3 1808.5,851.9 1810.5,850.3 1812.4,850.8 1814.3,848.5 1816.5,850.0 1818.8,850.3 1821.0,849.1 1823.3,849.4 1825.5,847.6 1827.8,848.0 1829.3,849.1 1830.8,850.6 1832.3,853.8 1833.8,853.1 1835.3,856.5 1836.8,857.2 1838.3,857.1 1839.8,859.0 1841.3,860.4 1843.2,859.8 1845.2,860.7 1847.1,859.0 1849.0,857.8 1850.9,857.4 1852.9,856.0 1854.8,854.6 1855.5,857.5 1856.3,860.8 1857.0,862.8 1857.8,862.3 1858.5,866.3 1859.2,868.7 1860.0,870.3 1860.7,873.3 1861.4,873.3 1862.2,874.8 1862.9,877.6 1863.7,878.4 1864.4,883.0 1865.7,880.0 1867.0,879.0 1868.3,876.7 1869.6,875.1 1870.8,872.9 1872.1,872.5 1873.4,871.0 1874.7,869.7 1876.0,866.6 1877.7,865.0 1879.4,864.1 1881.1,864.0 1882.8,860.7 1884.6,858.5 1886.3,858.7 1888.0,858.6 1889.7,855.0 1891.4,854.4 1893.3,854.7 1895.3,854.0 1897.2,852.4 1899.1,853.1 1901.1,852.7 1903.0,851.7 1904.9,851.5 1906.9,848.5 1908.8,848.8 1910.7,848.1 1912.7,847.1 1914.6,846.9 1916.5,847.5 1918.4,846.0 1920.3,843.3 1922.3,843.9 1924.2,842.8 1926.1,840.6 1927.4,839.2 1928.7,836.8 1930.0,836.1 1931.3,835.3 1932.5,832.3 1933.8,830.5 1935.1,828.5 1936.4,829.1 1937.7,825.1 1939.6,824.4 1941.6,822.5 1943.5,822.0 1945.4,821.7 1947.4,820.7 1949.3,818.5 1951.0,820.8 1952.6,820.0 1954.3,822.5 1955.9,822.7 1957.6,823.6 1959.2,825.3 1960.9,826.0 1961.9,825.6 1963.0,822.3 1964.0,822.3 1965.1,820.6 1966.1,816.6 1967.2,816.0 1968.2,815.1 1969.3,813.3 1970.3,811.5 1971.4,807.8 1972.4,808.4 1974.6,806.2 1976.8,805.5 1979.0,807.6 1981.3,806.3 1983.5,805.3 1985.7,804.8 1987.9,805.3 1990.2,805.8 1992.5,803.4 1994.8,804.6 1997.1,804.0 1999.4,805.0 2001.3,802.6 2003.3,800.8 2005.2,801.2 2007.1,798.6 2009.0,797.6 2011.0,799.2 2012.9,797.2 2015.3,796.1 2017.8,795.1 2020.2,794.4 2022.6,794.8 2023.9,796.4 2025.3,799.6 2026.6,799.6 2028.0,800.9 2029.3,802.8 2030.7,803.7 2032.0,805.9 2033.4,807.1 2034.8,808.0 2036.1,810.1 2038.0,810.8 2039.9,808.0 2041.9,809.1 2043.8,809.5 2045.7,807.9 2047.8,807.1 2049.8,808.1 2051.9,807.4 2053.9,805.8 2056.0,804.4 2058.0,807.0 2060.1,805.1 2062.2,804.6 2064.3,803.0 2066.4,804.2 2068.6,807.0 2070.7,806.4 2072.8,804.2 2074.9,807.4 2077.0,807.7 2079.1,804.2 2081.3,807.0 2083.4,805.6 2085.5,806.0 2087.6,805.6 2089.6,807.1 2091.6,805.0 2093.6,809.7 2095.6,805.7 2097.6,810.3 2099.6,805.5 2101.6,807.8 2103.6,807.3 2105.5,811.2 2107.5,808.1 2109.5,811.7 2111.5,808.7 2113.5,807.5 2115.5,809.1 2117.5,807.7 2119.5,810.1 2121.5,808.6 2123.6,809.5 2125.7,809.7 2127.8,811.1 2129.9,815.2 2131.9,813.4 2134.0,814.4 2136.1,816.0 2138.2,814.5 2140.3,816.2 2142.5,812.7 2144.7,815.2 2146.9,816.7 2149.1,814.1 2151.4,812.7 2153.6,816.7 2155.8,815.9 2158.0,813.3 2160.2,812.1 2162.2,813.1 2164.3,813.2 2166.3,811.6 2168.4,814.3 2170.4,812.3 2172.4,813.8 2174.5,812.5 2176.5,814.9 2178.6,813.5 2180.6,813.0 2182.6,812.3 2184.7,813.7 2186.7,811.8 2188.8,810.9 2190.8,808.3 2192.8,811.1 2194.9,809.1 2196.9,809.8 2199.0,805.8 2201.0,803.9 2204.0,805.7 2204.4,809.1 2204.9,812.0 2205.3,812.7 2205.8,817.2 2206.2,816.4 2206.7,822.2 2207.1,820.2 2207.5,818.3 2207.9,816.0 2208.3,817.5 2208.8,816.0 2209.2,813.0 2209.6,808.7 2210.0,809.8 2211.1,807.0 2212.1,802.7 2213.2,804.1 2214.2,801.4 2215.2,796.8 2216.3,796.2 2217.7,795.2 2219.2,797.5 2220.6,799.1 2222.0,804.7 2223.9,803.7 2225.7,805.5 2227.6,808.2 2229.7,804.9 2231.9,804.1 2234.0,804.8 2236.0,805.5 2238.0,805.0 2238.2,802.9 2238.3,800.8 2238.5,798.8 2238.6,796.7 2238.8,794.6 2238.9,792.5 2239.1,790.5 2239.2,788.4 2239.4,786.3 2239.5,784.2 2239.7,782.2 2239.8,780.1 2240.0,778.0 2240.5,776.0 2241.0,774.0 2241.5,772.0 2242.0,770.0 2243.5,772.5 2245.0,775.0 2245.2,777.1 2245.3,779.2 2245.5,781.2 2245.7,783.3 2245.8,785.4 2246.0,787.5 2246.2,789.6 2246.3,791.7 2246.5,793.8 2246.7,795.8 2246.8,797.9 2247.0,800.0 2247.8,802.0 2248.5,804.0 2249.2,806.0 2250.0,808.0 2251.0,810.3 2252.0,812.7 2253.0,815.0 2254.6,817.5 2256.1,820.0 2256.1,818.0 2256.2,816.0 2256.2,814.0 2256.3,812.0 2256.3,810.0 2256.4,808.0 2256.4,806.0 2256.5,804.0 2256.5,802.0 2256.6,800.0 2256.6,798.0 2256.7,796.0 2256.7,794.0 2256.8,792.0 2256.8,790.0 2256.8,788.0 2256.9,786.0 2256.9,784.0 2257.0,782.0 2257.0,780.0 2257.1,778.0 2257.1,776.0 2257.2,774.0 2257.2,772.0 2257.3,770.0 2257.3,768.0 2257.4,766.0 2257.4,764.0 2257.5,762.0 2257.5,760.0 2257.6,758.0 2257.7,756.0 2257.7,754.0 2257.8,752.0 2257.9,750.0 2257.9,748.0 2258.0,746.0 2258.1,744.0 2258.2,742.0 2258.2,740.0 2258.3,738.0 2258.4,736.0 2258.5,734.0 2258.6,732.0 2258.6,730.0 2258.7,728.0 2258.8,726.0 2258.8,724.0 2258.9,722.0 2259.0,720.0 2259.1,718.0 2259.2,716.0 2259.4,714.0 2259.5,712.0 2259.6,710.0 2259.8,708.0 2259.9,706.0 2260.0,704.0 2260.1,702.0 2260.2,700.0 2260.4,698.0 2260.5,696.0 2260.6,694.0 2260.8,692.0 2260.9,690.0 2261.0,688.0 2261.7,685.7 2262.3,683.3 2263.0,681.0 2263.5,683.2 2264.0,685.5 2264.5,687.8 2265.0,690.0 2265.0,692.0 2265.1,694.0 2265.1,696.0 2265.1,698.0 2265.1,700.0 2265.2,702.0 2265.2,704.0 2265.2,706.0 2265.3,708.0 2265.3,710.0 2265.3,712.0 2265.3,714.0 2265.4,716.0 2265.4,718.0 2265.4,720.0 2265.5,722.0 2265.5,724.0 2265.5,726.0 2265.5,728.0 2265.6,730.0 2265.6,732.0 2265.6,734.0 2265.7,736.0 2265.7,738.0 2265.7,740.0 2265.7,742.0 2265.8,744.0 2265.8,746.0 2265.8,748.0 2265.9,750.0 2265.9,752.0 2265.9,754.0 2265.9,756.0 2266.0,758.0 2266.0,760.0 2266.1,762.0 2266.1,764.0 2266.2,766.0 2266.2,768.0 2266.2,770.0 2266.3,772.0 2266.3,774.0 2266.4,776.0 2266.4,778.0 2266.5,780.0 2266.6,782.0 2266.6,784.0 2266.7,786.0 2266.7,788.0 2266.8,790.0 2266.8,792.0 2266.8,794.0 2266.9,796.0 2266.9,798.0 2267.0,800.0 2269.5,800.0 2272.0,800.0"/>
<polyline stroke="#000" stroke-width="11.5" points="234.0,766.5 236.1,766.4 238.3,769.0 240.4,764.0 242.6,763.2 244.7,769.0 246.9,764.0 249.0,763.5 251.2,766.6 253.3,764.7 255.4,767.7 257.4,763.6 259.5,767.7 261.6,763.7 263.6,765.2 265.7,766.9 267.8,765.3 269.8,766.5 271.9,765.0 273.9,760.8 276.0,765.6 278.1,763.7 280.1,761.8 282.2,760.8 284.1,765.7 286.0,765.1 288.0,768.2 289.9,768.1 291.8,767.8 293.8,764.0 295.7,763.4 297.6,761.5 299.8,759.3 302.0,763.4 304.1,759.4 306.3,762.2 308.5,763.2 310.6,761.3 312.8,758.1 315.0,762.2 316.0,763.0 316.9,761.9 317.9,762.9 319.2,764.3 320.6,759.7 321.9,763.5 323.3,759.5 324.6,758.0 326.9,757.4 329.1,758.9 331.4,760.4 333.6,756.7 335.9,757.1 338.1,758.4 339.4,755.1 340.7,755.2 342.0,753.3 344.6,752.0 347.1,752.8 349.7,751.3 351.6,747.4 353.6,751.5 355.5,746.4 357.8,746.9 360.0,746.7 362.2,749.9 364.5,750.0 366.8,747.4 369.0,746.7 370.4,746.6 371.9,753.0 373.4,750.4 374.8,754.3 376.1,755.0 377.4,756.8 378.6,758.9 379.9,759.9 381.2,760.9 382.5,765.8 384.4,769.3 386.4,770.3 387.2,765.7 388.0,766.7 388.8,760.9 389.7,761.2 390.5,761.7 391.3,760.4 392.1,755.7 393.6,759.9 395.0,759.7 396.4,761.8 397.9,764.1 399.8,765.9 401.8,763.8 403.7,761.5 405.3,761.6 406.9,759.7 408.5,756.5 410.2,757.6 411.8,756.4 413.4,753.7 415.3,757.0 417.2,752.7 419.1,756.9 421.1,756.3 423.0,753.0 424.9,750.6 426.9,752.3 428.4,752.4 430.0,753.2 431.5,753.6 433.1,760.9 434.6,758.9 436.1,759.0 437.5,761.0 438.9,762.7 440.4,767.8 441.0,765.6 441.7,768.1 442.3,769.0 442.9,773.1 443.6,773.5 444.2,776.2 444.8,780.5 445.5,783.5 446.1,784.9 449.0,779.7 451.9,781.3 453.6,785.5 455.2,781.9 456.9,784.3 458.5,787.4 460.2,788.2 461.8,791.7 463.5,792.9 466.1,790.8 468.6,788.8 471.2,788.1 472.2,790.1 473.1,790.7 474.1,796.1 475.0,794.8 476.0,801.0 477.0,801.4 477.9,799.6 478.9,804.1 481.2,804.3 483.5,800.6 485.9,802.9 488.2,799.8 490.5,803.8 492.0,800.6 493.5,805.8 495.0,809.3 496.5,809.9 498.0,807.6 499.5,810.8 501.0,809.8 502.5,812.5 504.0,817.0 505.9,817.3 507.9,813.1 509.8,815.9 511.7,818.0 513.6,815.9 515.5,820.2 517.5,821.4 519.4,819.9 521.7,819.3 523.9,822.7 526.2,821.1 528.5,819.7 530.7,820.7 533.0,820.5 535.4,825.0 537.8,823.5 540.2,825.1 542.6,826.3 544.5,826.7 546.4,821.4 548.4,822.1 550.3,824.3 552.2,823.1 554.1,820.2 556.1,821.3 558.0,817.9 560.0,817.2 561.9,815.9 563.5,816.4 565.2,814.0 566.8,814.2 568.5,815.4 570.1,808.9 571.8,809.9 573.4,810.2 575.3,807.3 577.3,805.6 579.2,805.8 581.1,800.0 583.1,804.3 585.0,801.4 586.1,800.4 587.2,798.7 588.3,792.5 589.4,790.6 590.5,789.4 591.6,789.6 592.7,790.4 594.6,789.0 596.5,784.8 598.5,784.9 600.4,784.3 601.9,780.3 603.3,782.6 604.8,780.9 606.2,778.0 607.6,777.5 609.1,775.3 610.5,772.9 612.0,769.3 613.3,767.5 614.6,765.6 615.9,762.9 617.1,766.6 618.4,761.2 619.7,757.9 621.0,758.1 622.3,755.2 623.6,755.6 624.9,753.3 626.1,750.8 627.4,751.0 628.7,749.0 630.0,747.0 631.3,748.2 633.3,744.4 635.3,745.1 637.3,746.4 639.4,746.2 641.4,742.4 643.4,740.9 645.4,742.4 647.2,740.3 649.0,738.5 650.8,737.3 652.5,736.5 654.3,735.7 656.1,734.2 657.9,732.9 659.7,734.2 661.5,732.7 663.2,730.0 665.0,729.8 666.8,729.6 668.6,727.8 670.4,725.7 672.2,725.2 674.0,724.2 675.7,724.4 677.5,722.5 679.3,721.1 681.1,720.4 682.9,717.9 684.7,718.3 686.5,717.5 688.2,716.1 690.0,714.3 691.8,713.0 693.6,711.2 695.4,710.3 697.1,709.5 698.9,709.1 700.6,708.8 702.4,706.4 704.1,706.0 705.9,705.3 707.6,704.3 709.4,701.8 711.1,702.9 712.9,701.0 714.8,699.4 716.8,698.4 718.7,698.6 720.6,698.3 722.5,696.0 724.5,695.3 726.4,694.8 728.3,693.0 730.2,692.6 732.2,693.0 734.1,691.2 735.8,690.8 737.5,688.4 739.3,688.8 741.0,687.5 742.7,685.1 744.4,684.8 746.2,684.1 747.9,682.7 749.6,681.7 751.8,680.3 754.0,680.5 756.2,679.5 758.4,680.0 760.6,678.4 762.8,679.3 765.0,677.8 766.9,675.8 768.9,675.2 770.8,673.4 772.7,673.8 774.6,671.0 776.6,671.3 778.5,669.4 780.4,670.0 782.4,667.8 784.3,668.5 786.2,668.0 788.1,666.3 790.0,665.4 792.0,665.4 793.9,665.5 796.1,664.3 798.3,663.4 800.5,664.1 802.8,664.8 805.0,662.9 807.2,664.5 809.4,663.2 811.3,663.5 813.2,664.5 815.1,666.2 817.1,667.6 819.0,668.0 820.9,668.9 822.8,668.6 824.8,666.6 826.7,665.7 828.7,664.4 830.6,663.7 832.3,664.7 834.0,665.2 835.7,666.4 837.4,669.4 839.0,668.7 840.7,670.2 842.4,671.4 844.1,674.6 845.7,672.4 847.4,671.8 849.0,669.6 850.7,667.3 852.3,666.1 854.0,665.3 855.6,662.6 857.3,662.9 859.1,660.9 860.8,658.9 862.6,658.6 864.3,658.0 866.0,656.0 867.8,656.8 869.5,655.7 871.3,653.7 873.0,653.6 875.3,653.4 877.6,653.5 880.0,652.9 882.3,655.2 884.6,655.5 885.7,652.5 886.8,650.4 887.9,647.7 889.0,647.1 890.1,645.7 891.2,642.7 892.3,640.5 894.2,640.5 896.2,640.2 898.1,638.0 900.0,637.8 902.0,637.4 903.9,636.1 905.8,636.1 907.8,634.9 909.7,634.6 911.6,633.7 913.6,632.8 915.5,632.1 917.4,631.6 919.3,631.2 921.3,631.1 923.2,630.5 925.1,629.8 927.0,628.9 929.0,628.7 930.9,628.2 932.8,627.2 934.7,626.3 936.7,626.1 938.6,625.3 940.6,624.8 942.7,624.5 944.7,623.6 946.7,624.0 948.8,622.8 950.8,622.9 952.8,622.3 954.9,621.0 956.9,621.4 958.9,620.8 960.9,620.0 963.0,619.9 965.0,618.9 967.0,618.0 969.1,617.6 971.1,617.2 973.1,617.3 975.2,616.7 977.2,615.5 979.3,615.3 981.3,614.6 983.4,614.2 985.5,613.8 987.5,613.4 989.6,612.7 991.7,612.7 993.7,611.8 995.8,612.0 997.8,611.1 999.9,610.6 1002.0,610.4 1004.0,609.5 1006.1,609.0 1008.4,608.8 1010.7,608.9 1013.0,608.8 1015.4,609.3 1017.7,608.9 1020.0,609.2 1022.0,608.4 1024.0,607.8 1026.0,607.7 1028.0,607.4 1030.0,607.4 1032.1,606.6 1034.1,606.2 1036.1,605.8 1038.1,605.5 1040.1,605.5 1042.1,605.1 1044.1,604.3 1046.1,603.9 1048.1,603.8 1050.1,603.4 1052.2,602.8 1054.2,602.6 1056.2,602.4 1058.2,601.6 1060.2,601.6 1062.2,601.3 1064.2,600.9 1066.2,600.4 1068.2,600.0 1070.2,599.7 1072.3,599.1 1074.3,598.9 1076.3,598.4 1078.3,598.0 1080.3,597.5 1082.3,597.2 1084.3,596.8 1086.2,596.7 1088.2,596.1 1090.2,596.0 1092.2,595.6 1094.1,595.1 1096.1,594.6 1098.1,594.5 1100.0,594.2 1102.0,593.9 1104.0,593.4 1106.0,593.1 1107.9,592.4 1109.9,592.2 1111.9,592.1 1113.8,591.5 1115.8,591.0 1117.8,590.8 1119.7,590.7 1121.7,589.9 1123.7,589.5 1125.7,589.4 1127.6,589.2 1129.6,588.6 1131.6,588.1 1133.5,588.1 1135.5,587.3 1137.5,587.1 1139.5,586.9 1141.4,586.7 1143.4,586.3 1145.5,587.4 1147.6,588.6 1149.7,589.9 1149.9,592.0 1150.1,594.0 1150.3,596.1 1150.5,598.2 1150.7,600.3 1151.0,602.3 1151.2,604.4 1151.4,606.5 1151.6,608.6 1151.8,610.6 1152.0,612.7 1152.2,614.8 1152.3,616.8 1152.5,618.8 1152.6,620.8 1152.8,622.8 1152.9,624.8 1153.1,626.8 1153.2,628.8 1153.4,630.8 1153.5,632.8 1153.7,634.8 1153.8,636.8 1154.0,638.8 1154.1,640.7 1154.3,642.7 1154.4,644.7 1154.6,646.7 1154.7,648.7 1154.9,650.7 1155.0,652.7 1155.2,654.7 1155.3,656.7 1155.5,658.7 1155.6,660.7 1155.8,662.7 1155.9,664.7 1156.0,666.7 1156.1,668.7 1156.1,670.7 1156.2,672.7 1156.3,674.7 1156.4,676.8 1156.5,678.8 1156.5,680.8 1156.6,682.8 1156.7,684.8 1156.8,686.8 1156.9,688.8 1156.9,690.8 1157.0,692.8 1157.1,694.8 1157.2,696.9 1157.3,698.9 1157.4,700.9 1157.4,702.9 1157.5,704.9 1157.6,706.9 1157.7,708.9 1157.8,710.9 1157.8,712.9 1157.9,714.9 1158.0,717.0 1158.1,719.0 1158.2,721.0 1158.2,723.0 1158.3,725.0 1158.4,727.0 1158.5,729.0 1158.6,731.0 1158.6,733.0 1158.7,735.1 1158.8,737.1 1158.9,739.1 1159.0,741.1 1159.0,743.1 1159.1,745.1 1159.2,747.1 1159.3,749.1 1159.4,751.2 1159.4,753.2 1159.5,755.2 1159.6,757.2 1159.7,759.2 1159.8,761.2 1159.9,763.2 1159.9,765.2 1160.0,767.3 1160.1,769.3 1160.2,771.3 1160.3,773.3 1160.3,775.3 1160.4,777.3 1160.5,779.3 1160.6,781.3 1160.7,783.4 1160.7,785.4 1160.8,787.4 1160.9,789.4 1161.0,791.4 1161.0,793.4 1161.1,795.5 1161.2,797.5 1161.2,799.5 1161.3,801.5 1161.4,803.6 1161.4,805.6 1161.5,807.6 1161.6,809.6 1161.6,811.6 1161.7,813.7 1161.8,815.7 1161.8,817.7 1161.9,819.7 1162.0,821.7 1162.0,823.8 1162.1,825.8 1162.2,827.8 1162.3,829.8 1162.3,831.9 1162.4,833.9 1162.5,835.9 1162.5,837.9 1162.6,839.9 1162.7,842.0 1162.7,844.0 1162.8,846.0 1162.9,848.0 1162.9,850.0 1163.0,852.1 1163.1,854.1 1163.1,856.1 1163.2,858.1 1163.3,860.2 1163.3,862.2 1163.4,864.2 1163.4,866.2 1163.5,868.2 1163.5,870.2 1163.6,872.2 1163.6,874.2 1163.6,876.3 1163.7,878.3 1163.7,880.3 1163.7,882.3 1163.8,884.3 1163.8,886.3 1163.9,888.3 1163.9,890.3 1163.9,892.3 1164.0,894.3 1164.0,896.4 1164.1,898.4 1164.1,900.4 1164.1,902.4 1164.2,904.4 1164.2,906.4 1164.3,908.4 1164.3,910.4 1164.3,912.4 1164.4,914.4 1164.4,916.5 1164.4,918.5 1164.5,920.5 1164.5,922.5 1164.6,924.5 1164.6,926.5 1164.6,928.5 1164.6,930.5 1164.6,932.5 1164.6,934.5 1164.6,936.5 1164.6,938.5 1164.6,940.5 1164.6,942.5 1164.6,944.5 1164.6,946.5 1164.6,948.5 1164.6,950.5 1164.6,952.5 1164.6,954.5 1164.6,956.5 1164.7,954.5 1164.9,952.4 1165.0,950.4 1165.2,948.4 1165.3,946.3 1165.4,944.3 1165.6,942.3 1165.7,940.2 1165.9,938.2 1166.0,936.2 1166.1,934.1 1166.3,932.1 1166.4,930.1 1166.6,928.0 1166.7,926.0 1166.9,924.0 1167.0,921.9 1167.1,919.9 1167.3,917.9 1167.4,915.8 1167.6,913.8 1167.7,911.8 1167.8,909.7 1168.0,907.7 1168.1,905.7 1168.3,903.6 1168.4,901.6 1168.5,899.5 1168.7,897.4 1168.8,895.4 1169.0,893.3 1169.1,891.2 1169.2,889.1 1169.4,887.1 1169.5,885.0 1169.7,882.9 1169.8,880.8 1169.9,878.7 1170.1,876.7 1170.2,874.6 1170.3,872.5 1170.5,870.4 1170.6,868.4 1170.8,866.3 1170.9,864.2 1170.9,862.2 1170.9,860.2 1170.9,858.2 1170.9,856.2 1170.9,854.2 1170.9,852.2 1170.9,850.1 1170.9,848.1 1170.9,846.1 1170.9,844.1 1170.9,842.1 1170.9,840.1 1170.9,838.1 1170.9,836.1 1170.9,834.1 1170.9,832.1 1170.9,830.1 1170.9,828.1 1170.9,826.1 1170.9,824.1 1170.9,822.0 1170.9,820.0 1170.9,818.0 1170.9,816.0 1170.9,814.0 1170.9,812.0 1170.9,810.0 1170.9,808.0 1170.9,806.0 1170.9,804.0 1170.9,802.0 1170.9,800.0 1170.9,798.0 1170.9,796.0 1170.9,793.9 1170.9,791.9 1170.9,789.9 1170.9,787.9 1170.9,785.9 1170.9,783.9 1170.9,781.9 1171.5,783.9 1172.1,785.9 1172.8,787.9 1173.4,789.9 1174.0,791.8 1174.6,793.8 1175.2,795.8 1175.9,797.8 1176.5,799.8 1177.1,801.8 1177.1,803.8 1177.2,805.8 1177.2,807.8 1177.3,809.9 1177.3,811.9 1177.4,813.9 1177.4,815.9 1177.4,817.9 1177.5,819.9 1177.5,821.9 1177.6,823.9 1177.6,826.0 1177.6,828.0 1177.7,830.0 1177.7,832.0 1177.8,834.0 1177.8,836.0 1177.9,838.0 1177.9,840.0 1177.9,842.1 1178.0,844.1 1178.0,846.1 1178.1,848.1 1178.1,850.1 1178.1,852.1 1178.2,854.1 1178.2,856.1 1178.3,858.2 1178.3,860.2 1178.4,862.2 1178.4,864.2 1178.7,862.1 1179.0,860.1 1179.3,858.0 1179.6,855.9 1179.9,853.8 1180.2,851.8 1180.6,849.7 1180.9,847.6 1181.2,845.5 1181.5,843.4 1181.8,841.4 1182.1,839.3 1182.3,837.3 1182.4,835.3 1182.6,833.3 1182.7,831.2 1182.9,829.2 1183.1,827.2 1183.2,825.2 1183.4,823.2 1183.6,821.2 1183.7,819.2 1183.9,817.2 1184.0,815.1 1184.2,813.1 1184.4,811.1 1184.5,809.1 1184.7,807.1 1184.8,805.1 1185.0,803.1 1185.2,801.1 1185.3,799.0 1185.5,797.0 1185.6,795.0 1185.8,793.0 1186.0,791.0 1186.1,789.0 1186.3,787.0 1186.5,785.0 1186.6,782.9 1186.8,780.9 1186.9,778.9 1187.1,776.9 1187.3,774.9 1187.4,772.9 1187.6,770.9 1187.7,768.9 1187.9,766.9 1188.1,764.8 1188.2,762.8 1188.4,760.8 1188.6,758.8 1188.7,756.8 1188.9,754.8 1189.0,752.8 1189.2,750.8 1189.4,748.8 1189.5,746.8 1189.7,744.7 1189.8,742.7 1190.0,740.7 1190.2,738.7 1190.3,736.7 1190.5,734.7 1190.6,732.7 1190.8,730.7 1191.0,728.7 1191.1,726.7 1191.3,724.6 1191.5,722.6 1191.6,720.6 1191.8,718.6 1191.9,716.6 1192.1,714.6 1192.3,712.6 1192.4,710.6 1192.6,708.6 1192.7,706.5 1192.9,704.5 1193.1,702.5 1193.2,700.5 1193.4,698.5 1193.6,696.5 1193.7,694.5 1193.9,692.5 1194.0,690.4 1194.2,688.4 1194.4,686.4 1194.5,684.4 1194.7,682.4 1194.8,680.4 1195.0,678.4 1195.2,676.4 1195.3,674.3 1195.5,672.3 1195.6,670.3 1195.8,668.3 1196.0,666.3 1196.1,664.3 1196.3,662.3 1196.5,660.3 1196.6,658.2 1196.8,656.2 1196.9,654.2 1197.1,652.2 1197.4,650.2 1197.7,648.2 1198.0,646.2 1198.3,644.2 1198.6,642.2 1198.9,640.2 1199.2,638.2 1199.5,636.2 1199.8,634.2 1200.1,632.2 1200.4,630.2 1200.7,628.2 1200.9,626.3 1201.2,624.3 1201.5,622.3 1201.8,620.3 1202.1,618.3 1202.4,616.3 1202.7,614.3 1203.0,612.3 1203.3,610.3 1203.6,608.3 1203.9,606.3 1204.2,604.3 1204.5,602.3 1205.1,600.3 1205.8,598.2 1206.4,596.2 1207.0,594.2 1207.6,592.2 1208.2,590.1 1208.9,588.1 1209.5,586.1 1211.2,587.4 1212.8,588.6 1214.5,589.9 1216.1,588.4 1217.7,586.9 1219.3,585.7 1220.9,584.1 1222.5,582.9 1224.0,582.0 1225.6,580.8 1227.2,578.8 1228.8,577.2 1230.4,576.5 1232.0,575.4 1234.1,574.9 1236.2,574.3 1238.2,574.3 1240.3,574.0 1242.4,573.8 1244.5,573.2 1246.5,573.5 1248.6,573.0 1250.7,572.1 1252.8,572.1 1254.9,571.4 1256.9,571.4 1259.0,571.6 1261.1,571.0 1263.2,570.8 1265.2,570.7 1267.3,569.8 1269.4,569.8 1271.4,569.7 1273.4,569.5 1275.5,569.5 1277.5,569.5 1279.5,569.2 1281.5,568.7 1283.6,568.7 1285.6,568.3 1287.6,568.6 1289.6,568.0 1291.6,567.8 1293.7,567.4 1295.7,567.2 1297.7,567.3 1299.7,566.7 1301.7,567.1 1303.8,566.7 1305.8,566.7 1307.8,566.3 1309.8,565.9 1311.9,565.5 1313.9,565.0 1315.9,565.4 1317.9,565.3 1319.9,565.1 1322.0,564.9 1324.0,564.0 1326.0,564.4 1328.0,563.8 1330.0,563.7 1332.1,564.0 1334.1,563.3 1336.1,563.2 1338.1,562.6 1340.2,562.5 1342.2,562.3 1344.2,562.1 1346.3,562.3 1348.3,561.7 1350.4,561.7 1352.4,561.5 1354.5,562.1 1356.5,562.2 1358.6,561.9 1360.7,561.5 1362.7,561.0 1364.8,561.6 1366.8,560.8 1368.9,560.7 1370.9,561.0 1373.0,561.2 1375.0,560.6 1377.1,561.0 1379.2,560.4 1381.2,560.9 1383.3,560.6 1385.3,560.6 1387.4,560.6 1389.4,560.3 1391.5,559.6 1393.5,559.8 1395.6,559.7 1397.7,559.8 1399.7,559.2 1401.8,559.4 1403.8,559.0 1405.9,558.8 1407.9,559.0 1410.0,560.2 1412.1,559.1 1414.2,558.3 1416.3,557.7 1418.4,558.3 1420.5,558.5 1422.6,557.9 1424.7,558.1 1426.8,557.7 1428.9,558.0 1431.0,559.7 1433.1,559.5 1435.5,560.0 1437.9,561.8 1440.4,561.1 1442.8,559.3 1444.7,559.7 1446.6,559.4 1448.6,559.6 1450.5,557.9 1452.4,555.2 1454.4,556.9 1456.5,557.7 1458.5,558.3 1460.5,556.8 1462.6,555.7 1464.6,554.9 1466.6,557.0 1468.7,558.1 1470.7,555.3 1472.7,557.1 1474.7,557.4 1476.8,557.3 1478.8,555.8 1480.8,555.2 1482.9,554.9 1484.9,556.1 1486.9,558.7 1489.0,556.6 1491.0,559.1 1492.9,560.0 1494.9,560.6 1496.8,561.5 1498.7,562.7 1500.6,565.4 1502.6,562.6 1504.5,562.0 1506.4,567.7 1508.3,566.6 1510.3,565.5 1512.2,566.3 1514.1,564.9 1516.4,568.6 1518.7,570.7 1521.1,569.3 1523.4,571.3 1525.7,572.1 1527.5,570.7 1529.3,574.1 1531.1,577.7 1533.0,577.3 1534.8,575.0 1536.6,579.6 1538.4,580.8 1540.2,583.0 1541.6,584.0 1542.9,587.0 1544.3,588.9 1545.7,585.2 1547.0,588.6 1548.4,587.2 1549.8,595.1 1551.1,590.6 1552.5,594.3 1553.9,597.1 1555.2,597.4 1556.6,597.2 1557.3,601.4 1558.0,601.5 1558.8,605.4 1559.5,608.9 1560.2,608.1 1561.0,611.1 1561.7,614.4 1562.4,615.7 1564.7,617.5 1566.9,618.2 1569.2,618.7 1571.4,613.2 1573.7,615.4 1575.9,612.9 1576.9,615.1 1577.8,611.3 1578.8,612.6 1579.8,608.3 1580.7,608.7 1581.7,601.7 1582.6,603.9 1583.6,600.8 1584.6,601.8 1585.7,595.0 1586.7,593.1 1587.8,595.3 1588.8,591.0 1589.9,589.9 1590.9,587.8 1592.0,589.9 1593.0,585.6 1594.1,585.2 1595.1,583.4 1597.2,582.9 1599.3,579.5 1601.4,577.8 1603.5,578.7 1605.6,580.6 1607.7,579.9 1609.4,578.8 1611.1,583.4 1612.7,584.1 1614.4,580.9 1616.3,583.7 1618.3,583.7 1620.2,577.4 1622.2,578.5 1624.1,579.2 1625.4,580.5 1626.6,582.9 1627.9,582.2 1629.2,581.8 1630.5,584.3 1631.8,579.1 1633.0,578.4 1634.3,577.5 1635.6,573.8 1637.9,574.1 1640.2,574.2 1642.6,576.1 1644.9,575.3 1647.2,570.2 1648.9,571.2 1650.6,571.7 1652.3,571.5 1654.0,567.8 1655.6,567.3 1657.3,566.2 1659.0,565.1 1660.7,565.5 1662.4,567.4 1664.1,568.8 1665.8,564.2 1667.5,569.6 1669.1,568.7 1670.8,569.3 1672.5,569.4 1674.2,576.2 1676.1,575.1 1678.1,571.6 1680.0,570.5 1681.9,567.5 1684.1,572.9 1686.2,572.2 1688.4,568.7 1690.6,572.0 1692.8,575.3 1695.0,570.8 1697.1,572.1 1699.3,572.5 1701.2,573.8 1703.2,573.4 1705.1,578.1 1707.0,576.8 1709.0,581.0 1710.9,580.9 1712.8,584.4 1714.8,584.7 1716.7,586.4 1717.8,579.7 1719.0,582.2 1720.1,580.1 1721.3,574.9 1722.4,571.0 1724.1,570.4 1725.8,573.7 1727.6,573.7 1729.3,566.3 1731.0,566.2 1732.7,566.0 1734.5,562.4 1736.2,565.0 1737.9,565.2 1740.1,565.6 1742.2,561.6 1744.4,567.0 1746.6,566.6 1748.7,562.8 1750.9,568.1 1753.0,569.1 1755.2,569.2 1757.5,568.3 1759.8,568.8 1762.2,566.8 1764.5,563.3 1766.8,567.8 1768.5,567.9 1770.3,566.7 1772.0,567.9 1773.8,574.3 1775.5,575.6 1777.2,571.1 1779.0,572.1 1780.7,578.0 1782.5,576.5 1784.2,581.7 1786.5,578.9 1788.7,580.6 1791.0,576.0 1793.2,581.0 1795.5,577.0 1797.7,578.5 1800.0,579.0 1802.0,578.8 1804.0,578.8 1806.0,579.3 1808.0,578.6 1810.0,579.0 1812.0,579.1 1814.1,580.6 1816.1,579.7 1818.1,581.2 1820.1,581.1 1822.1,579.8 1824.1,581.3 1826.0,582.7 1827.9,582.6 1829.7,583.8 1831.6,585.3 1833.5,586.0 1835.4,586.6 1837.2,588.6 1839.1,588.7 1841.0,590.1 1843.1,589.7 1845.1,590.6 1847.2,591.9 1849.2,590.9 1851.3,591.4 1853.3,592.1 1855.4,592.3 1856.4,593.6 1857.3,595.7 1858.3,597.9 1859.3,601.0 1860.2,602.9 1861.2,604.9 1862.2,606.6 1863.2,609.1 1864.1,609.6 1865.1,612.4 1866.4,610.4 1867.7,609.8 1869.1,607.3 1870.4,606.3 1871.7,604.9 1873.0,603.7 1874.3,601.8 1875.6,599.4 1877.0,598.5 1878.3,597.2 1879.6,596.0 1881.6,595.2 1883.6,596.7 1885.5,597.2 1887.5,596.7 1889.5,597.2 1891.5,598.6 1893.5,599.3 1895.5,599.3 1897.4,600.4 1899.4,600.0 1901.4,601.5 1903.4,601.9 1905.4,603.1 1907.4,603.4 1909.3,602.7 1911.3,604.2 1913.3,604.0 1915.3,604.2 1917.3,603.9 1919.3,603.3 1921.4,601.3 1923.4,601.8 1925.4,600.4 1927.0,599.7 1928.6,598.4 1930.2,597.0 1931.8,596.2 1933.4,593.9 1935.0,592.9 1936.6,591.0 1938.3,589.6 1939.9,589.1 1941.5,586.8 1943.1,586.7 1944.7,584.4 1946.3,582.6 1947.9,582.5 1949.5,579.6 1951.2,579.0 1952.9,578.5 1954.7,576.0 1956.4,576.2 1958.1,574.7 1959.8,574.4 1961.5,571.8 1963.3,571.7 1965.0,570.8 1966.7,568.6 1968.4,566.6 1970.2,565.9 1971.9,565.6 1973.6,562.8 1975.7,564.4 1977.8,564.4 1979.9,565.2 1982.0,564.7 1984.2,566.2 1986.3,564.8 1988.4,565.7 1990.5,565.8 1992.6,565.8 1994.8,564.5 1996.9,564.3 1999.0,563.9 2001.2,564.3 2003.3,562.0 2005.4,562.0 2007.6,561.1 2009.7,561.7 2011.4,563.1 2013.1,562.8 2014.8,565.5 2016.5,566.9 2018.2,567.3 2019.8,568.8 2021.5,570.4 2023.2,571.8 2024.9,571.6 2026.6,573.8 2028.2,573.8 2029.8,575.5 2031.4,577.8 2033.0,578.5 2034.6,579.5 2036.2,580.5 2037.9,581.8 2039.5,582.1 2041.1,584.4 2042.7,586.4 2044.3,585.9 2045.9,587.0 2047.8,587.3 2049.6,586.9 2051.5,585.2 2053.3,583.7 2055.2,584.0 2057.0,583.2 2058.9,581.5 2060.7,581.8 2062.6,580.4 2064.4,580.1 2066.3,578.1 2068.1,577.6 2070.0,577.3 2072.1,576.9 2074.3,576.9 2076.4,576.7 2078.6,575.8 2080.7,574.0 2082.9,574.5 2085.0,574.5 2087.2,574.4 2089.3,573.0 2091.3,573.1 2093.3,574.8 2095.4,574.6 2097.4,575.8 2099.4,575.9 2101.4,577.8 2102.2,578.0 2103.0,580.9 2103.8,583.5 2104.6,584.9 2105.4,586.5 2106.2,588.5 2107.0,590.4 2107.8,592.3 2108.6,594.2 2109.4,596.1 2110.2,598.0 2111.0,599.9 2111.4,601.9 2111.8,603.9 2112.2,605.9 2112.6,607.9 2113.0,609.9 2113.4,612.0 2113.8,614.0 2114.2,616.0 2114.6,618.0 2115.0,620.0 2115.4,622.0 2115.8,624.0 2116.0,626.0 2116.2,628.0 2116.4,630.0 2116.6,632.0 2116.8,634.0 2117.0,636.0 2117.2,638.1 2117.4,640.1 2117.6,642.1 2117.8,644.1 2118.0,646.1 2118.2,648.1 2118.4,650.1 2118.6,652.1 2118.8,654.1 2119.0,656.1 2119.2,658.1 2119.4,660.2 2119.6,662.2 2119.8,664.2 2120.0,666.2 2120.2,668.2 2120.4,670.2 2120.6,672.2 2120.8,670.2 2121.0,668.1 2121.2,666.1 2121.3,664.0 2121.5,662.0 2121.7,659.9 2121.9,657.9 2122.1,655.8 2122.3,653.8 2122.4,651.8 2122.6,649.7 2122.8,647.7 2123.0,645.6 2123.2,643.6 2123.4,641.5 2123.6,639.5 2123.7,637.4 2123.9,635.4 2124.1,633.3 2124.3,631.3 2124.5,629.2 2124.8,627.1 2125.0,625.0 2125.2,622.8 2125.4,620.7 2125.7,618.6 2125.9,616.5 2126.1,614.4 2126.3,612.3 2126.6,610.2 2126.8,608.1 2127.0,606.0 2127.2,603.8 2127.5,601.7 2127.7,599.6 2127.9,597.5 2128.3,599.5 2128.8,601.4 2129.2,603.4 2129.6,605.4 2130.1,605.5 2130.5,609.6 2131.0,613.0 2131.4,614.0 2131.8,617.4 2132.3,618.9 2132.7,618.6 2133.3,615.2 2133.8,616.1 2134.4,613.0 2134.9,612.7 2135.5,608.7 2136.0,608.1 2136.6,603.1 2137.1,604.2 2137.7,602.8 2138.2,600.4 2138.8,598.2 2139.3,595.6 2139.9,591.0 2141.9,590.8 2143.9,589.6 2145.9,588.6 2148.1,590.0 2150.3,588.7 2152.5,590.1 2154.7,591.2 2156.9,591.6 2159.1,586.3 2161.3,589.3 2163.5,589.0 2165.7,588.1 2167.9,589.6 2170.1,590.2 2172.3,586.8 2174.5,588.7 2176.8,586.1 2179.0,587.4 2181.2,586.8 2183.4,589.1 2185.6,589.4 2187.6,588.9 2189.6,586.7 2191.6,587.4 2193.5,586.8 2195.5,585.8 2197.5,583.4 2199.2,585.3 2200.9,590.1 2202.6,589.4 2204.3,588.1 2206.0,590.6 2207.7,590.6 2209.4,591.8 2212.0,593.4 2214.7,593.4 2217.3,592.3 2219.4,595.1 2221.4,597.7 2223.5,595.6 2225.5,595.6 2227.6,595.8 2228.9,596.7 2230.3,598.6 2231.6,599.4 2233.1,599.3 2234.6,600.4 2236.1,596.2 2237.6,597.5 2239.0,594.2 2240.5,593.5 2242.0,591.4 2243.5,589.5 2245.5,593.2 2247.4,592.7 2249.4,591.7 2251.4,593.4 2253.2,591.6 2255.0,590.3 2255.2,591.4 2255.5,592.8 2255.7,595.0 2255.9,600.6 2256.2,601.2 2256.4,603.9 2256.6,606.1 2256.8,604.1 2257.1,608.2 2257.3,611.2 2257.5,611.9 2257.8,614.2 2258.0,616.7 2260.0,617.2 2262.0,617.0 2262.3,614.9 2262.6,612.8 2262.9,610.7 2263.2,608.6 2263.5,606.5 2263.8,604.4 2264.1,602.3 2264.4,600.2 2264.7,598.1 2265.0,596.0 2265.2,598.0 2265.4,600.0 2265.6,602.0 2265.8,604.0 2266.0,606.0 2266.2,608.0 2266.4,610.0 2266.6,612.0 2266.8,614.0 2267.0,616.0 2268.7,614.7 2270.3,613.3 2272.0,612.0"/>
</g>
<rect x="234" y="32" width="2040" height="1643.5" fill="none" stroke="#000" stroke-width="11.5" stroke-linejoin="miter"/>
<g stroke="#000" stroke-width="11"><line x1="234.0" y1="1675.5" x2="234.0" y2="1707.5" /><line x1="375.7" y1="1675.5" x2="375.7" y2="1690.5" /><line x1="517.3" y1="1675.5" x2="517.3" y2="1707.5" /><line x1="659.0" y1="1675.5" x2="659.0" y2="1690.5" /><line x1="800.7" y1="1675.5" x2="800.7" y2="1707.5" /><line x1="942.3" y1="1675.5" x2="942.3" y2="1690.5" /><line x1="1084.0" y1="1675.5" x2="1084.0" y2="1707.5" /><line x1="1225.7" y1="1675.5" x2="1225.7" y2="1690.5" /><line x1="1367.3" y1="1675.5" x2="1367.3" y2="1707.5" /><line x1="1509.0" y1="1675.5" x2="1509.0" y2="1690.5" /><line x1="1650.7" y1="1675.5" x2="1650.7" y2="1707.5" /><line x1="1792.3" y1="1675.5" x2="1792.3" y2="1690.5" /><line x1="1934.0" y1="1675.5" x2="1934.0" y2="1707.5" /><line x1="2075.7" y1="1675.5" x2="2075.7" y2="1690.5" /><line x1="2217.3" y1="1675.5" x2="2217.3" y2="1707.5" /></g>
<g font-family="Liberation Sans, sans-serif" font-weight="bold" font-size="72" text-anchor="middle" fill="#000"><text transform="translate(234.0,1785.3) scale(0.975,1)">4000</text><text transform="translate(517.3,1785.3) scale(0.975,1)">3500</text><text transform="translate(800.7,1785.3) scale(0.975,1)">3000</text><text transform="translate(1084.0,1785.3) scale(0.975,1)">2500</text><text transform="translate(1367.3,1785.3) scale(0.975,1)">2000</text><text transform="translate(1650.7,1785.3) scale(0.975,1)">1500</text><text transform="translate(1934.0,1785.3) scale(0.975,1)">1000</text><text transform="translate(2217.3,1785.3) scale(0.975,1)">500</text></g>
<g font-family="Liberation Sans, sans-serif" font-weight="bold" font-size="55" fill="#000"><text x="484.6" y="689.9">3482</text><text x="1091.3" y="475.3">2361</text><text x="1515.8" y="362.2">1649</text><text x="1676.4" y="324.6">1390</text><text x="1844.4" y="317.0">1120</text><text x="2003.7" y="282.1">805</text><text x="484.6" y="915.5">3464</text><text x="1193.8" y="956.7">2361</text><text x="1493.4" y="696.4">1638</text><text x="1673.7" y="652.1">1384</text><text x="1829.8" y="678.8">1125</text><text x="2055.5" y="753.1">666</text><text x="586.8" y="1623.4">3452</text><text x="1150.1" y="1152.6">2367</text><text x="1503.0" y="1055.5">1638</text><text x="1683.8" y="1004.9">1384</text><text x="1806.8" y="955.7">1119</text><text x="1952.4" y="892.1">955</text></g>
<text x="860" y="1931" font-family="Liberation Sans, sans-serif" font-weight="bold" font-size="86" fill="#000">Wavenumber (cm<tspan font-size="58" dy="-34.5">-1</tspan><tspan dy="34.5">)</tspan></text>
<text transform="translate(103.5,1100.4) rotate(-90)" x="0" y="0" font-family="Liberation Sans, sans-serif" font-weight="bold" font-size="86" fill="#000">Transmitance</text>
<rect x="1544.5" y="1358.3" width="683" height="268.7" fill="#fff" stroke="#000" stroke-width="7"/>
<g stroke-width="13" stroke-linecap="round"><line x1="1556" y1="1407" x2="1710.5" y2="1407" stroke="#0000ff"/><line x1="1556" y1="1493.3" x2="1710.5" y2="1493.3" stroke="#ff0000"/><line x1="1556" y1="1579.1" x2="1710.5" y2="1579.1" stroke="#000"/></g>
<g font-family="Liberation Sans, sans-serif" font-size="69.5" fill="#000"><text x="1731" y="1430.5">10% NaOH 48h</text><text x="1729.7" y="1516.3">5% NaOH 48h</text><text x="1730.2" y="1602.8">3% NaOH 48h</text></g>
</svg>
</body></html>
